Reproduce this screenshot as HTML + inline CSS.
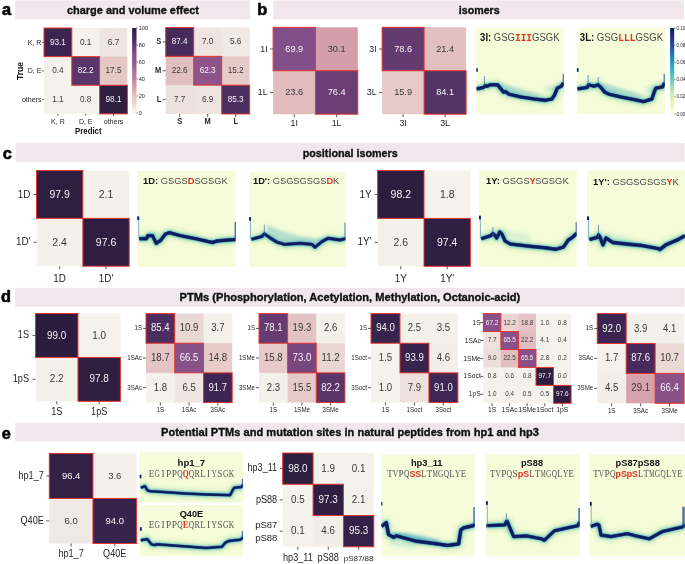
<!DOCTYPE html>
<html><head><meta charset="utf-8"><style>
html,body{margin:0;padding:0;background:#fff;width:685px;height:564px;overflow:hidden}
svg{display:block}
</style></head><body>
<svg width="685" height="564" viewBox="0 0 685 564" style="will-change:transform">
<rect width="685" height="564" fill="#fff"/>
<defs><filter id="blur1" filterUnits="userSpaceOnUse" x="0" y="0" width="685" height="564"><feGaussianBlur stdDeviation="0.5"/></filter><filter id="blur1b" filterUnits="userSpaceOnUse" x="0" y="0" width="685" height="564"><feGaussianBlur stdDeviation="0.9"/></filter><filter id="blur2" filterUnits="userSpaceOnUse" x="0" y="0" width="685" height="564"><feGaussianBlur stdDeviation="1.6"/></filter><filter id="blur3" filterUnits="userSpaceOnUse" x="0" y="0" width="685" height="564"><feGaussianBlur stdDeviation="2.2"/></filter></defs>
<text x="2.00" y="15.30" font-family='"Liberation Sans", sans-serif' font-size="16.30" font-weight="bold" fill="#000" text-anchor="start" stroke="#000" stroke-width="0.6">a</text>
<rect x="15.00" y="0.40" width="235.30" height="19.00" fill="#f1e6ec" />
<text x="67.00" y="13.50" font-family='"Liberation Sans", sans-serif' font-size="11.30" font-weight="bold" fill="#111" text-anchor="start" textLength="132.00" lengthAdjust="spacingAndGlyphs" stroke="#111" stroke-width="0.35">charge and volume effect</text>
<text x="257.20" y="15.40" font-family='"Liberation Sans", sans-serif' font-size="16.30" font-weight="bold" fill="#000" text-anchor="start" stroke="#000" stroke-width="0.6">b</text>
<rect x="273.10" y="0.40" width="410.90" height="19.00" fill="#f1e6ec" />
<text x="458.80" y="13.70" font-family='"Liberation Sans", sans-serif' font-size="11.30" font-weight="bold" fill="#111" text-anchor="start" textLength="40.90" lengthAdjust="spacingAndGlyphs" stroke="#111" stroke-width="0.35">isomers</text>
<text x="2.80" y="158.50" font-family='"Liberation Sans", sans-serif' font-size="16.30" font-weight="bold" fill="#000" text-anchor="start" stroke="#000" stroke-width="0.6">c</text>
<rect x="15.80" y="142.90" width="668.70" height="18.85" fill="#f1e6ec" />
<text x="302.70" y="156.60" font-family='"Liberation Sans", sans-serif' font-size="11.30" font-weight="bold" fill="#111" text-anchor="start" textLength="95.10" lengthAdjust="spacingAndGlyphs" stroke="#111" stroke-width="0.35">positional isomers</text>
<text x="1.00" y="302.30" font-family='"Liberation Sans", sans-serif' font-size="16.30" font-weight="bold" fill="#000" text-anchor="start" stroke="#000" stroke-width="0.6">d</text>
<rect x="15.20" y="287.90" width="669.30" height="18.70" fill="#f1e6ec" />
<text x="179.60" y="301.40" font-family='"Liberation Sans", sans-serif' font-size="11.30" font-weight="bold" fill="#111" text-anchor="start" textLength="340.60" lengthAdjust="spacingAndGlyphs" stroke="#111" stroke-width="0.35">PTMs (Phosphorylation, Acetylation, Methylation, Octanoic-acid)</text>
<text x="1.80" y="439.00" font-family='"Liberation Sans", sans-serif' font-size="16.30" font-weight="bold" fill="#000" text-anchor="start" stroke="#000" stroke-width="0.6">e</text>
<rect x="15.20" y="422.90" width="669.30" height="18.70" fill="#f1e6ec" />
<text x="161.00" y="436.40" font-family='"Liberation Sans", sans-serif' font-size="11.30" font-weight="bold" fill="#111" text-anchor="start" textLength="378.00" lengthAdjust="spacingAndGlyphs" stroke="#111" stroke-width="0.35">Potential PTMs and mutation sites in natural peptides from hp1 and hp3</text>
<rect x="44.00" y="28.00" width="28.50" height="29.33" fill="#3a2450" />
<rect x="71.80" y="28.00" width="28.50" height="29.33" fill="#f5f2ec" />
<rect x="99.60" y="28.00" width="27.80" height="29.33" fill="#eee5e1" />
<rect x="44.00" y="56.63" width="28.50" height="29.33" fill="#f5f2ec" />
<rect x="71.80" y="56.63" width="28.50" height="29.33" fill="#593569" />
<rect x="99.60" y="56.63" width="27.80" height="29.33" fill="#e5c7c6" />
<rect x="44.00" y="85.27" width="28.50" height="28.63" fill="#f5f1eb" />
<rect x="71.80" y="85.27" width="28.50" height="28.63" fill="#f5f2ec" />
<rect x="99.60" y="85.27" width="27.80" height="28.63" fill="#2e1e40" />
<text x="57.90" y="44.86" font-family='"Liberation Sans", sans-serif' font-size="8.61" font-weight="normal" fill="#f4f4f4" text-anchor="middle" textLength="15.96" lengthAdjust="spacingAndGlyphs" >93.1</text>
<text x="85.70" y="44.86" font-family='"Liberation Sans", sans-serif' font-size="8.61" font-weight="normal" fill="#3a3a3a" text-anchor="middle" textLength="11.40" lengthAdjust="spacingAndGlyphs" >0.1</text>
<text x="113.50" y="44.86" font-family='"Liberation Sans", sans-serif' font-size="8.61" font-weight="normal" fill="#3a3a3a" text-anchor="middle" textLength="11.40" lengthAdjust="spacingAndGlyphs" >6.7</text>
<text x="57.90" y="73.49" font-family='"Liberation Sans", sans-serif' font-size="8.61" font-weight="normal" fill="#3a3a3a" text-anchor="middle" textLength="11.40" lengthAdjust="spacingAndGlyphs" >0.4</text>
<text x="85.70" y="73.49" font-family='"Liberation Sans", sans-serif' font-size="8.61" font-weight="normal" fill="#f4f4f4" text-anchor="middle" textLength="15.96" lengthAdjust="spacingAndGlyphs" >82.2</text>
<text x="113.50" y="73.49" font-family='"Liberation Sans", sans-serif' font-size="8.61" font-weight="normal" fill="#3a3a3a" text-anchor="middle" textLength="15.96" lengthAdjust="spacingAndGlyphs" >17.5</text>
<text x="57.90" y="102.13" font-family='"Liberation Sans", sans-serif' font-size="8.61" font-weight="normal" fill="#3a3a3a" text-anchor="middle" textLength="11.40" lengthAdjust="spacingAndGlyphs" >1.1</text>
<text x="85.70" y="102.13" font-family='"Liberation Sans", sans-serif' font-size="8.61" font-weight="normal" fill="#3a3a3a" text-anchor="middle" textLength="11.40" lengthAdjust="spacingAndGlyphs" >0.8</text>
<text x="113.50" y="102.13" font-family='"Liberation Sans", sans-serif' font-size="8.61" font-weight="normal" fill="#f4f4f4" text-anchor="middle" textLength="15.96" lengthAdjust="spacingAndGlyphs" >98.1</text>
<rect x="44.00" y="28.00" width="27.80" height="28.63" fill="none" stroke="#e8322a" stroke-width="0.95"/>
<rect x="71.80" y="56.63" width="27.80" height="28.63" fill="none" stroke="#e8322a" stroke-width="0.95"/>
<rect x="99.60" y="85.27" width="27.80" height="28.63" fill="none" stroke="#e8322a" stroke-width="0.95"/>
<line x1="42.20" y1="42.32" x2="44.00" y2="42.32" stroke="#262626" stroke-width="0.75"/>
<text x="41.40" y="44.51" font-family='"Liberation Sans", sans-serif' font-size="7.81" font-weight="normal" fill="#262626" text-anchor="end" textLength="13.63" lengthAdjust="spacingAndGlyphs" >K, R</text>
<line x1="42.20" y1="70.95" x2="44.00" y2="70.95" stroke="#262626" stroke-width="0.75"/>
<text x="41.40" y="73.14" font-family='"Liberation Sans", sans-serif' font-size="7.81" font-weight="normal" fill="#262626" text-anchor="end" textLength="13.63" lengthAdjust="spacingAndGlyphs" >D, E</text>
<line x1="42.20" y1="99.58" x2="44.00" y2="99.58" stroke="#262626" stroke-width="0.75"/>
<text x="41.40" y="101.77" font-family='"Liberation Sans", sans-serif' font-size="7.81" font-weight="normal" fill="#262626" text-anchor="end" textLength="19.48" lengthAdjust="spacingAndGlyphs" >others</text>
<line x1="57.90" y1="113.90" x2="57.90" y2="115.70" stroke="#262626" stroke-width="0.75"/>
<text x="57.90" y="123.80" font-family='"Liberation Sans", sans-serif' font-size="7.81" font-weight="normal" fill="#262626" text-anchor="middle" textLength="13.63" lengthAdjust="spacingAndGlyphs" >K, R</text>
<line x1="85.70" y1="113.90" x2="85.70" y2="115.70" stroke="#262626" stroke-width="0.75"/>
<text x="85.70" y="123.80" font-family='"Liberation Sans", sans-serif' font-size="7.81" font-weight="normal" fill="#262626" text-anchor="middle" textLength="13.63" lengthAdjust="spacingAndGlyphs" >D, E</text>
<line x1="113.50" y1="113.90" x2="113.50" y2="115.70" stroke="#262626" stroke-width="0.75"/>
<text x="113.50" y="123.80" font-family='"Liberation Sans", sans-serif' font-size="7.81" font-weight="normal" fill="#262626" text-anchor="middle" textLength="19.48" lengthAdjust="spacingAndGlyphs" >others</text>
<text x="22.60" y="71.00" font-family='"Liberation Sans", sans-serif' font-size="8.60" font-weight="bold" fill="#111" text-anchor="middle" transform="rotate(-90 22.6 71)">True</text>
<text x="75.00" y="134.00" font-family='"Liberation Sans", sans-serif' font-size="8.20" font-weight="bold" fill="#111" text-anchor="start" textLength="26.60" lengthAdjust="spacingAndGlyphs" >Predict</text>
<defs><linearGradient id="g50" x1="0" y1="1" x2="0" y2="0"><stop offset="0.0" stop-color="#f5f2ec"/><stop offset="0.05" stop-color="#f2ece7"/><stop offset="0.1" stop-color="#ebdbd7"/><stop offset="0.15" stop-color="#e6ccc9"/><stop offset="0.2" stop-color="#e3c2c2"/><stop offset="0.25" stop-color="#ddb6ba"/><stop offset="0.3" stop-color="#d49faa"/><stop offset="0.35" stop-color="#ca93a5"/><stop offset="0.4" stop-color="#bf86a1"/><stop offset="0.45" stop-color="#b57a9c"/><stop offset="0.5" stop-color="#aa6f97"/><stop offset="0.55" stop-color="#9e6391"/><stop offset="0.6" stop-color="#93588c"/><stop offset="0.65" stop-color="#8a5289"/><stop offset="0.7" stop-color="#834f88"/><stop offset="0.75" stop-color="#704178"/><stop offset="0.8" stop-color="#60386d"/><stop offset="0.85" stop-color="#4e2e60"/><stop offset="0.9" stop-color="#412856"/><stop offset="0.95" stop-color="#35224a"/><stop offset="1.0" stop-color="#2a1b3b"/></linearGradient></defs>
<rect x="132.10" y="28.00" width="4.40" height="85.00" fill="url(#g50)" />
<line x1="136.50" y1="113.00" x2="138.00" y2="113.00" stroke="#262626" stroke-width="0.5"/>
<text x="138.70" y="115.02" font-family='"Liberation Sans", sans-serif' font-size="5.60" font-weight="normal" fill="#262626" text-anchor="start" >0</text>
<line x1="136.50" y1="96.00" x2="138.00" y2="96.00" stroke="#262626" stroke-width="0.5"/>
<text x="138.70" y="98.02" font-family='"Liberation Sans", sans-serif' font-size="5.60" font-weight="normal" fill="#262626" text-anchor="start" >20</text>
<line x1="136.50" y1="79.00" x2="138.00" y2="79.00" stroke="#262626" stroke-width="0.5"/>
<text x="138.70" y="81.02" font-family='"Liberation Sans", sans-serif' font-size="5.60" font-weight="normal" fill="#262626" text-anchor="start" >40</text>
<line x1="136.50" y1="62.00" x2="138.00" y2="62.00" stroke="#262626" stroke-width="0.5"/>
<text x="138.70" y="64.02" font-family='"Liberation Sans", sans-serif' font-size="5.60" font-weight="normal" fill="#262626" text-anchor="start" >60</text>
<line x1="136.50" y1="45.00" x2="138.00" y2="45.00" stroke="#262626" stroke-width="0.5"/>
<text x="138.70" y="47.02" font-family='"Liberation Sans", sans-serif' font-size="5.60" font-weight="normal" fill="#262626" text-anchor="start" >80</text>
<line x1="136.50" y1="28.00" x2="138.00" y2="28.00" stroke="#262626" stroke-width="0.5"/>
<text x="138.70" y="30.02" font-family='"Liberation Sans", sans-serif' font-size="5.60" font-weight="normal" fill="#262626" text-anchor="start" >100</text>
<rect x="165.70" y="27.50" width="28.70" height="29.53" fill="#472b5b" />
<rect x="193.70" y="27.50" width="28.70" height="29.53" fill="#eee4e0" />
<rect x="221.70" y="27.50" width="28.00" height="29.53" fill="#f1e9e4" />
<rect x="165.70" y="56.33" width="28.70" height="29.53" fill="#e1bebf" />
<rect x="193.70" y="56.33" width="28.70" height="29.53" fill="#8e5389" />
<rect x="221.70" y="56.33" width="28.00" height="29.53" fill="#e6cbc9" />
<rect x="165.70" y="85.17" width="28.70" height="28.83" fill="#ede2de" />
<rect x="193.70" y="85.17" width="28.70" height="28.83" fill="#eee4e0" />
<rect x="221.70" y="85.17" width="28.00" height="28.83" fill="#4c2d5f" />
<text x="179.70" y="44.46" font-family='"Liberation Sans", sans-serif' font-size="8.61" font-weight="normal" fill="#f4f4f4" text-anchor="middle" textLength="15.96" lengthAdjust="spacingAndGlyphs" >87.4</text>
<text x="207.70" y="44.46" font-family='"Liberation Sans", sans-serif' font-size="8.61" font-weight="normal" fill="#3a3a3a" text-anchor="middle" textLength="11.40" lengthAdjust="spacingAndGlyphs" >7.0</text>
<text x="235.70" y="44.46" font-family='"Liberation Sans", sans-serif' font-size="8.61" font-weight="normal" fill="#3a3a3a" text-anchor="middle" textLength="11.40" lengthAdjust="spacingAndGlyphs" >5.6</text>
<text x="179.70" y="73.29" font-family='"Liberation Sans", sans-serif' font-size="8.61" font-weight="normal" fill="#3a3a3a" text-anchor="middle" textLength="15.96" lengthAdjust="spacingAndGlyphs" >22.6</text>
<text x="207.70" y="73.29" font-family='"Liberation Sans", sans-serif' font-size="8.61" font-weight="normal" fill="#f4f4f4" text-anchor="middle" textLength="15.96" lengthAdjust="spacingAndGlyphs" >62.3</text>
<text x="235.70" y="73.29" font-family='"Liberation Sans", sans-serif' font-size="8.61" font-weight="normal" fill="#3a3a3a" text-anchor="middle" textLength="15.96" lengthAdjust="spacingAndGlyphs" >15.2</text>
<text x="179.70" y="102.13" font-family='"Liberation Sans", sans-serif' font-size="8.61" font-weight="normal" fill="#3a3a3a" text-anchor="middle" textLength="11.40" lengthAdjust="spacingAndGlyphs" >7.7</text>
<text x="207.70" y="102.13" font-family='"Liberation Sans", sans-serif' font-size="8.61" font-weight="normal" fill="#3a3a3a" text-anchor="middle" textLength="11.40" lengthAdjust="spacingAndGlyphs" >6.9</text>
<text x="235.70" y="102.13" font-family='"Liberation Sans", sans-serif' font-size="8.61" font-weight="normal" fill="#f4f4f4" text-anchor="middle" textLength="15.96" lengthAdjust="spacingAndGlyphs" >85.3</text>
<rect x="165.70" y="27.50" width="28.00" height="28.83" fill="none" stroke="#e8322a" stroke-width="0.95"/>
<rect x="193.70" y="56.33" width="28.00" height="28.83" fill="none" stroke="#e8322a" stroke-width="0.95"/>
<rect x="221.70" y="85.17" width="28.00" height="28.83" fill="none" stroke="#e8322a" stroke-width="0.95"/>
<line x1="162.70" y1="41.92" x2="165.70" y2="41.92" stroke="#262626" stroke-width="0.75"/>
<text x="161.20" y="44.26" font-family='"Liberation Sans", sans-serif' font-size="8.35" font-weight="bold" fill="#262626" text-anchor="end" textLength="4.99" lengthAdjust="spacingAndGlyphs" >S</text>
<line x1="162.70" y1="70.75" x2="165.70" y2="70.75" stroke="#262626" stroke-width="0.75"/>
<text x="161.20" y="73.09" font-family='"Liberation Sans", sans-serif' font-size="8.35" font-weight="bold" fill="#262626" text-anchor="end" textLength="6.24" lengthAdjust="spacingAndGlyphs" >M</text>
<line x1="162.70" y1="99.58" x2="165.70" y2="99.58" stroke="#262626" stroke-width="0.75"/>
<text x="161.20" y="101.92" font-family='"Liberation Sans", sans-serif' font-size="8.35" font-weight="bold" fill="#262626" text-anchor="end" textLength="4.57" lengthAdjust="spacingAndGlyphs" >L</text>
<line x1="179.70" y1="114.00" x2="179.70" y2="117.00" stroke="#262626" stroke-width="0.75"/>
<text x="179.70" y="124.20" font-family='"Liberation Sans", sans-serif' font-size="8.35" font-weight="bold" fill="#262626" text-anchor="middle" textLength="4.99" lengthAdjust="spacingAndGlyphs" >S</text>
<line x1="207.70" y1="114.00" x2="207.70" y2="117.00" stroke="#262626" stroke-width="0.75"/>
<text x="207.70" y="124.20" font-family='"Liberation Sans", sans-serif' font-size="8.35" font-weight="bold" fill="#262626" text-anchor="middle" textLength="6.24" lengthAdjust="spacingAndGlyphs" >M</text>
<line x1="235.70" y1="114.00" x2="235.70" y2="117.00" stroke="#262626" stroke-width="0.75"/>
<text x="235.70" y="124.20" font-family='"Liberation Sans", sans-serif' font-size="8.35" font-weight="bold" fill="#262626" text-anchor="middle" textLength="4.57" lengthAdjust="spacingAndGlyphs" >L</text>
<rect x="273.10" y="27.30" width="43.05" height="44.15" fill="#834f88" />
<rect x="315.45" y="27.30" width="42.35" height="44.15" fill="#d49faa" />
<rect x="273.10" y="70.75" width="43.05" height="43.45" fill="#e0bcbe" />
<rect x="315.45" y="70.75" width="42.35" height="43.45" fill="#6b3d74" />
<text x="294.28" y="51.88" font-family='"Liberation Sans", sans-serif' font-size="9.66" font-weight="normal" fill="#f4f4f4" text-anchor="middle" textLength="17.91" lengthAdjust="spacingAndGlyphs" >69.9</text>
<text x="336.62" y="51.88" font-family='"Liberation Sans", sans-serif' font-size="9.66" font-weight="normal" fill="#3a3a3a" text-anchor="middle" textLength="17.91" lengthAdjust="spacingAndGlyphs" >30.1</text>
<text x="294.28" y="95.33" font-family='"Liberation Sans", sans-serif' font-size="9.66" font-weight="normal" fill="#3a3a3a" text-anchor="middle" textLength="17.91" lengthAdjust="spacingAndGlyphs" >23.6</text>
<text x="336.62" y="95.33" font-family='"Liberation Sans", sans-serif' font-size="9.66" font-weight="normal" fill="#f4f4f4" text-anchor="middle" textLength="17.91" lengthAdjust="spacingAndGlyphs" >76.4</text>
<rect x="273.10" y="27.30" width="42.35" height="43.45" fill="none" stroke="#e8322a" stroke-width="0.95"/>
<rect x="315.45" y="70.75" width="42.35" height="43.45" fill="none" stroke="#e8322a" stroke-width="0.95"/>
<line x1="270.10" y1="49.03" x2="273.10" y2="49.03" stroke="#262626" stroke-width="0.75"/>
<text x="267.60" y="51.79" font-family='"Liberation Sans", sans-serif' font-size="9.84" font-weight="normal" fill="#262626" text-anchor="end" textLength="7.37" lengthAdjust="spacingAndGlyphs" >1I</text>
<line x1="270.10" y1="92.48" x2="273.10" y2="92.48" stroke="#262626" stroke-width="0.75"/>
<text x="267.60" y="95.24" font-family='"Liberation Sans", sans-serif' font-size="9.84" font-weight="normal" fill="#262626" text-anchor="end" textLength="9.82" lengthAdjust="spacingAndGlyphs" >1L</text>
<line x1="294.28" y1="114.20" x2="294.28" y2="117.20" stroke="#262626" stroke-width="0.75"/>
<text x="294.28" y="126.40" font-family='"Liberation Sans", sans-serif' font-size="9.84" font-weight="normal" fill="#262626" text-anchor="middle" textLength="7.37" lengthAdjust="spacingAndGlyphs" >1I</text>
<line x1="336.62" y1="114.20" x2="336.62" y2="117.20" stroke="#262626" stroke-width="0.75"/>
<text x="336.62" y="126.40" font-family='"Liberation Sans", sans-serif' font-size="9.84" font-weight="normal" fill="#262626" text-anchor="middle" textLength="9.82" lengthAdjust="spacingAndGlyphs" >1L</text>
<rect x="382.10" y="27.30" width="42.70" height="44.15" fill="#643a70" />
<rect x="424.10" y="27.30" width="42.00" height="44.15" fill="#e2c0c1" />
<rect x="382.10" y="70.75" width="42.70" height="43.45" fill="#e6c9c8" />
<rect x="424.10" y="70.75" width="42.00" height="43.45" fill="#533265" />
<text x="403.10" y="51.88" font-family='"Liberation Sans", sans-serif' font-size="9.66" font-weight="normal" fill="#f4f4f4" text-anchor="middle" textLength="17.91" lengthAdjust="spacingAndGlyphs" >78.6</text>
<text x="445.10" y="51.88" font-family='"Liberation Sans", sans-serif' font-size="9.66" font-weight="normal" fill="#3a3a3a" text-anchor="middle" textLength="17.91" lengthAdjust="spacingAndGlyphs" >21.4</text>
<text x="403.10" y="95.33" font-family='"Liberation Sans", sans-serif' font-size="9.66" font-weight="normal" fill="#3a3a3a" text-anchor="middle" textLength="17.91" lengthAdjust="spacingAndGlyphs" >15.9</text>
<text x="445.10" y="95.33" font-family='"Liberation Sans", sans-serif' font-size="9.66" font-weight="normal" fill="#f4f4f4" text-anchor="middle" textLength="17.91" lengthAdjust="spacingAndGlyphs" >84.1</text>
<rect x="382.10" y="27.30" width="42.00" height="43.45" fill="none" stroke="#e8322a" stroke-width="0.95"/>
<rect x="424.10" y="70.75" width="42.00" height="43.45" fill="none" stroke="#e8322a" stroke-width="0.95"/>
<line x1="379.10" y1="49.03" x2="382.10" y2="49.03" stroke="#262626" stroke-width="0.75"/>
<text x="376.60" y="51.79" font-family='"Liberation Sans", sans-serif' font-size="9.84" font-weight="normal" fill="#262626" text-anchor="end" textLength="7.37" lengthAdjust="spacingAndGlyphs" >3I</text>
<line x1="379.10" y1="92.48" x2="382.10" y2="92.48" stroke="#262626" stroke-width="0.75"/>
<text x="376.60" y="95.24" font-family='"Liberation Sans", sans-serif' font-size="9.84" font-weight="normal" fill="#262626" text-anchor="end" textLength="9.82" lengthAdjust="spacingAndGlyphs" >3L</text>
<line x1="403.10" y1="114.20" x2="403.10" y2="117.20" stroke="#262626" stroke-width="0.75"/>
<text x="403.10" y="126.40" font-family='"Liberation Sans", sans-serif' font-size="9.84" font-weight="normal" fill="#262626" text-anchor="middle" textLength="7.37" lengthAdjust="spacingAndGlyphs" >3I</text>
<line x1="445.10" y1="114.20" x2="445.10" y2="117.20" stroke="#262626" stroke-width="0.75"/>
<text x="445.10" y="126.40" font-family='"Liberation Sans", sans-serif' font-size="9.84" font-weight="normal" fill="#262626" text-anchor="middle" textLength="9.82" lengthAdjust="spacingAndGlyphs" >3L</text>
<rect x="36.50" y="170.50" width="47.05" height="48.55" fill="#2e1e40" />
<rect x="82.85" y="170.50" width="46.35" height="48.55" fill="#f4f1eb" />
<rect x="36.50" y="218.35" width="47.05" height="47.85" fill="#f4f1eb" />
<rect x="82.85" y="218.35" width="46.35" height="47.85" fill="#2f1e41" />
<text x="59.67" y="197.68" font-family='"Liberation Sans", sans-serif' font-size="11.03" font-weight="normal" fill="#f4f4f4" text-anchor="middle" textLength="20.44" lengthAdjust="spacingAndGlyphs" >97.9</text>
<text x="106.02" y="197.68" font-family='"Liberation Sans", sans-serif' font-size="11.03" font-weight="normal" fill="#3a3a3a" text-anchor="middle" textLength="14.60" lengthAdjust="spacingAndGlyphs" >2.1</text>
<text x="59.67" y="245.53" font-family='"Liberation Sans", sans-serif' font-size="11.03" font-weight="normal" fill="#3a3a3a" text-anchor="middle" textLength="14.60" lengthAdjust="spacingAndGlyphs" >2.4</text>
<text x="106.02" y="245.53" font-family='"Liberation Sans", sans-serif' font-size="11.03" font-weight="normal" fill="#f4f4f4" text-anchor="middle" textLength="20.44" lengthAdjust="spacingAndGlyphs" >97.6</text>
<rect x="36.50" y="170.50" width="46.35" height="47.85" fill="none" stroke="#e8322a" stroke-width="0.95"/>
<rect x="82.85" y="218.35" width="46.35" height="47.85" fill="none" stroke="#e8322a" stroke-width="0.95"/>
<line x1="33.50" y1="194.43" x2="36.50" y2="194.43" stroke="#262626" stroke-width="0.75"/>
<text x="30.50" y="197.52" font-family='"Liberation Sans", sans-serif' font-size="11.02" font-weight="normal" fill="#262626" text-anchor="end" textLength="12.64" lengthAdjust="spacingAndGlyphs" >1D</text>
<line x1="33.50" y1="242.27" x2="36.50" y2="242.27" stroke="#262626" stroke-width="0.75"/>
<text x="30.50" y="245.36" font-family='"Liberation Sans", sans-serif' font-size="11.02" font-weight="normal" fill="#262626" text-anchor="end" textLength="14.53" lengthAdjust="spacingAndGlyphs" >1D'</text>
<line x1="59.67" y1="266.20" x2="59.67" y2="269.20" stroke="#262626" stroke-width="0.75"/>
<text x="59.67" y="281.60" font-family='"Liberation Sans", sans-serif' font-size="11.02" font-weight="normal" fill="#262626" text-anchor="middle" textLength="12.64" lengthAdjust="spacingAndGlyphs" >1D</text>
<line x1="106.02" y1="266.20" x2="106.02" y2="269.20" stroke="#262626" stroke-width="0.75"/>
<text x="106.02" y="281.60" font-family='"Liberation Sans", sans-serif' font-size="11.02" font-weight="normal" fill="#262626" text-anchor="middle" textLength="14.53" lengthAdjust="spacingAndGlyphs" >1D'</text>
<rect x="377.60" y="170.50" width="47.10" height="48.60" fill="#2d1e3f" />
<rect x="424.00" y="170.50" width="46.40" height="48.60" fill="#f5f1eb" />
<rect x="377.60" y="218.40" width="47.10" height="47.90" fill="#f4f1eb" />
<rect x="424.00" y="218.40" width="46.40" height="47.90" fill="#2f1f42" />
<text x="400.80" y="197.70" font-family='"Liberation Sans", sans-serif' font-size="11.03" font-weight="normal" fill="#f4f4f4" text-anchor="middle" textLength="20.44" lengthAdjust="spacingAndGlyphs" >98.2</text>
<text x="447.20" y="197.70" font-family='"Liberation Sans", sans-serif' font-size="11.03" font-weight="normal" fill="#3a3a3a" text-anchor="middle" textLength="14.60" lengthAdjust="spacingAndGlyphs" >1.8</text>
<text x="400.80" y="245.61" font-family='"Liberation Sans", sans-serif' font-size="11.03" font-weight="normal" fill="#3a3a3a" text-anchor="middle" textLength="14.60" lengthAdjust="spacingAndGlyphs" >2.6</text>
<text x="447.20" y="245.61" font-family='"Liberation Sans", sans-serif' font-size="11.03" font-weight="normal" fill="#f4f4f4" text-anchor="middle" textLength="20.44" lengthAdjust="spacingAndGlyphs" >97.4</text>
<rect x="377.60" y="170.50" width="46.40" height="47.90" fill="none" stroke="#e8322a" stroke-width="0.95"/>
<rect x="424.00" y="218.40" width="46.40" height="47.90" fill="none" stroke="#e8322a" stroke-width="0.95"/>
<line x1="374.60" y1="194.45" x2="377.60" y2="194.45" stroke="#262626" stroke-width="0.75"/>
<text x="371.60" y="197.54" font-family='"Liberation Sans", sans-serif' font-size="11.02" font-weight="normal" fill="#262626" text-anchor="end" textLength="12.10" lengthAdjust="spacingAndGlyphs" >1Y</text>
<line x1="374.60" y1="242.35" x2="377.60" y2="242.35" stroke="#262626" stroke-width="0.75"/>
<text x="371.60" y="245.44" font-family='"Liberation Sans", sans-serif' font-size="11.02" font-weight="normal" fill="#262626" text-anchor="end" textLength="13.98" lengthAdjust="spacingAndGlyphs" >1Y'</text>
<line x1="400.80" y1="266.30" x2="400.80" y2="269.30" stroke="#262626" stroke-width="0.75"/>
<text x="400.80" y="281.60" font-family='"Liberation Sans", sans-serif' font-size="11.02" font-weight="normal" fill="#262626" text-anchor="middle" textLength="12.10" lengthAdjust="spacingAndGlyphs" >1Y</text>
<line x1="447.20" y1="266.30" x2="447.20" y2="269.30" stroke="#262626" stroke-width="0.75"/>
<text x="447.20" y="281.60" font-family='"Liberation Sans", sans-serif' font-size="11.02" font-weight="normal" fill="#262626" text-anchor="middle" textLength="13.98" lengthAdjust="spacingAndGlyphs" >1Y'</text>
<rect x="35.50" y="313.50" width="43.15" height="44.60" fill="#2c1c3d" />
<rect x="77.95" y="313.50" width="42.45" height="44.60" fill="#f5f2ec" />
<rect x="35.50" y="357.40" width="43.15" height="43.90" fill="#f4f1eb" />
<rect x="77.95" y="357.40" width="42.45" height="43.90" fill="#2e1e40" />
<text x="56.73" y="338.52" font-family='"Liberation Sans", sans-serif' font-size="10.40" font-weight="normal" fill="#f4f4f4" text-anchor="middle" textLength="19.27" lengthAdjust="spacingAndGlyphs" >99.0</text>
<text x="99.18" y="338.52" font-family='"Liberation Sans", sans-serif' font-size="10.40" font-weight="normal" fill="#3a3a3a" text-anchor="middle" textLength="13.76" lengthAdjust="spacingAndGlyphs" >1.0</text>
<text x="56.73" y="382.42" font-family='"Liberation Sans", sans-serif' font-size="10.40" font-weight="normal" fill="#3a3a3a" text-anchor="middle" textLength="13.76" lengthAdjust="spacingAndGlyphs" >2.2</text>
<text x="99.18" y="382.42" font-family='"Liberation Sans", sans-serif' font-size="10.40" font-weight="normal" fill="#f4f4f4" text-anchor="middle" textLength="19.27" lengthAdjust="spacingAndGlyphs" >97.8</text>
<rect x="35.50" y="313.50" width="42.45" height="43.90" fill="none" stroke="#e8322a" stroke-width="0.95"/>
<rect x="77.95" y="357.40" width="42.45" height="43.90" fill="none" stroke="#e8322a" stroke-width="0.95"/>
<line x1="32.50" y1="335.45" x2="35.50" y2="335.45" stroke="#262626" stroke-width="0.75"/>
<text x="29.00" y="338.30" font-family='"Liberation Sans", sans-serif' font-size="10.17" font-weight="normal" fill="#262626" text-anchor="end" textLength="11.16" lengthAdjust="spacingAndGlyphs" >1S</text>
<line x1="32.50" y1="379.35" x2="35.50" y2="379.35" stroke="#262626" stroke-width="0.75"/>
<text x="29.00" y="382.20" font-family='"Liberation Sans", sans-serif' font-size="10.17" font-weight="normal" fill="#262626" text-anchor="end" textLength="16.23" lengthAdjust="spacingAndGlyphs" >1pS</text>
<line x1="56.73" y1="401.30" x2="56.73" y2="404.30" stroke="#262626" stroke-width="0.75"/>
<text x="56.73" y="414.80" font-family='"Liberation Sans", sans-serif' font-size="10.17" font-weight="normal" fill="#262626" text-anchor="middle" textLength="11.16" lengthAdjust="spacingAndGlyphs" >1S</text>
<line x1="99.18" y1="401.30" x2="99.18" y2="404.30" stroke="#262626" stroke-width="0.75"/>
<text x="99.18" y="414.80" font-family='"Liberation Sans", sans-serif' font-size="10.17" font-weight="normal" fill="#262626" text-anchor="middle" textLength="16.23" lengthAdjust="spacingAndGlyphs" >1pS</text>
<rect x="146.00" y="313.60" width="29.43" height="30.33" fill="#4c2d5f" />
<rect x="174.73" y="313.60" width="29.43" height="30.33" fill="#ead8d5" />
<rect x="203.47" y="313.60" width="28.73" height="30.33" fill="#f4f0ea" />
<rect x="146.00" y="343.23" width="29.43" height="30.33" fill="#e4c4c4" />
<rect x="174.73" y="343.23" width="29.43" height="30.33" fill="#885188" />
<rect x="203.47" y="343.23" width="28.73" height="30.33" fill="#e7ccca" />
<rect x="146.00" y="372.87" width="29.43" height="29.63" fill="#f5f1eb" />
<rect x="174.73" y="372.87" width="29.43" height="29.63" fill="#efe6e1" />
<rect x="203.47" y="372.87" width="28.73" height="29.63" fill="#3d2653" />
<text x="160.37" y="331.39" font-family='"Liberation Sans", sans-serif' font-size="10.08" font-weight="normal" fill="#f4f4f4" text-anchor="middle" textLength="18.68" lengthAdjust="spacingAndGlyphs" >85.4</text>
<text x="189.10" y="331.39" font-family='"Liberation Sans", sans-serif' font-size="10.08" font-weight="normal" fill="#3a3a3a" text-anchor="middle" textLength="18.68" lengthAdjust="spacingAndGlyphs" >10.9</text>
<text x="217.83" y="331.39" font-family='"Liberation Sans", sans-serif' font-size="10.08" font-weight="normal" fill="#3a3a3a" text-anchor="middle" textLength="13.35" lengthAdjust="spacingAndGlyphs" >3.7</text>
<text x="160.37" y="361.03" font-family='"Liberation Sans", sans-serif' font-size="10.08" font-weight="normal" fill="#3a3a3a" text-anchor="middle" textLength="18.68" lengthAdjust="spacingAndGlyphs" >18.7</text>
<text x="189.10" y="361.03" font-family='"Liberation Sans", sans-serif' font-size="10.08" font-weight="normal" fill="#f4f4f4" text-anchor="middle" textLength="18.68" lengthAdjust="spacingAndGlyphs" >66.5</text>
<text x="217.83" y="361.03" font-family='"Liberation Sans", sans-serif' font-size="10.08" font-weight="normal" fill="#3a3a3a" text-anchor="middle" textLength="18.68" lengthAdjust="spacingAndGlyphs" >14.8</text>
<text x="160.37" y="390.66" font-family='"Liberation Sans", sans-serif' font-size="10.08" font-weight="normal" fill="#3a3a3a" text-anchor="middle" textLength="13.35" lengthAdjust="spacingAndGlyphs" >1.8</text>
<text x="189.10" y="390.66" font-family='"Liberation Sans", sans-serif' font-size="10.08" font-weight="normal" fill="#3a3a3a" text-anchor="middle" textLength="13.35" lengthAdjust="spacingAndGlyphs" >6.5</text>
<text x="217.83" y="390.66" font-family='"Liberation Sans", sans-serif' font-size="10.08" font-weight="normal" fill="#f4f4f4" text-anchor="middle" textLength="18.68" lengthAdjust="spacingAndGlyphs" >91.7</text>
<rect x="146.00" y="313.60" width="28.73" height="29.63" fill="none" stroke="#e8322a" stroke-width="0.95"/>
<rect x="174.73" y="343.23" width="28.73" height="29.63" fill="none" stroke="#e8322a" stroke-width="0.95"/>
<rect x="203.47" y="372.87" width="28.73" height="29.63" fill="none" stroke="#e8322a" stroke-width="0.95"/>
<line x1="143.00" y1="328.42" x2="146.00" y2="328.42" stroke="#262626" stroke-width="0.75"/>
<text x="142.00" y="330.34" font-family='"Liberation Sans", sans-serif' font-size="6.85" font-weight="normal" fill="#262626" text-anchor="end" textLength="7.52" lengthAdjust="spacingAndGlyphs" >1S</text>
<line x1="143.00" y1="358.05" x2="146.00" y2="358.05" stroke="#262626" stroke-width="0.75"/>
<text x="142.00" y="359.97" font-family='"Liberation Sans", sans-serif' font-size="6.85" font-weight="normal" fill="#262626" text-anchor="end" textLength="14.69" lengthAdjust="spacingAndGlyphs" >1SAc</text>
<line x1="143.00" y1="387.68" x2="146.00" y2="387.68" stroke="#262626" stroke-width="0.75"/>
<text x="142.00" y="389.60" font-family='"Liberation Sans", sans-serif' font-size="6.85" font-weight="normal" fill="#262626" text-anchor="end" textLength="14.69" lengthAdjust="spacingAndGlyphs" >3SAc</text>
<line x1="160.37" y1="402.50" x2="160.37" y2="405.50" stroke="#262626" stroke-width="0.75"/>
<text x="160.37" y="412.40" font-family='"Liberation Sans", sans-serif' font-size="6.85" font-weight="normal" fill="#262626" text-anchor="middle" textLength="7.52" lengthAdjust="spacingAndGlyphs" >1S</text>
<line x1="189.10" y1="402.50" x2="189.10" y2="405.50" stroke="#262626" stroke-width="0.75"/>
<text x="189.10" y="412.40" font-family='"Liberation Sans", sans-serif' font-size="6.85" font-weight="normal" fill="#262626" text-anchor="middle" textLength="14.69" lengthAdjust="spacingAndGlyphs" >1SAc</text>
<line x1="217.83" y1="402.50" x2="217.83" y2="405.50" stroke="#262626" stroke-width="0.75"/>
<text x="217.83" y="412.40" font-family='"Liberation Sans", sans-serif' font-size="6.85" font-weight="normal" fill="#262626" text-anchor="middle" textLength="14.69" lengthAdjust="spacingAndGlyphs" >3SAc</text>
<rect x="259.00" y="313.60" width="29.33" height="30.33" fill="#663b71" />
<rect x="287.63" y="313.60" width="29.33" height="30.33" fill="#e3c3c3" />
<rect x="316.27" y="313.60" width="28.63" height="30.33" fill="#f4f1eb" />
<rect x="259.00" y="343.23" width="29.33" height="30.33" fill="#e6c9c8" />
<rect x="287.63" y="343.23" width="29.33" height="30.33" fill="#78467e" />
<rect x="316.27" y="343.23" width="28.63" height="30.33" fill="#ead7d4" />
<rect x="259.00" y="372.87" width="29.33" height="29.63" fill="#f4f1eb" />
<rect x="287.63" y="372.87" width="29.33" height="29.63" fill="#e6cac8" />
<rect x="316.27" y="372.87" width="28.63" height="29.63" fill="#593569" />
<text x="273.32" y="331.39" font-family='"Liberation Sans", sans-serif' font-size="10.08" font-weight="normal" fill="#f4f4f4" text-anchor="middle" textLength="18.68" lengthAdjust="spacingAndGlyphs" >78.1</text>
<text x="301.95" y="331.39" font-family='"Liberation Sans", sans-serif' font-size="10.08" font-weight="normal" fill="#3a3a3a" text-anchor="middle" textLength="18.68" lengthAdjust="spacingAndGlyphs" >19.3</text>
<text x="330.58" y="331.39" font-family='"Liberation Sans", sans-serif' font-size="10.08" font-weight="normal" fill="#3a3a3a" text-anchor="middle" textLength="13.35" lengthAdjust="spacingAndGlyphs" >2.6</text>
<text x="273.32" y="361.03" font-family='"Liberation Sans", sans-serif' font-size="10.08" font-weight="normal" fill="#3a3a3a" text-anchor="middle" textLength="18.68" lengthAdjust="spacingAndGlyphs" >15.8</text>
<text x="301.95" y="361.03" font-family='"Liberation Sans", sans-serif' font-size="10.08" font-weight="normal" fill="#f4f4f4" text-anchor="middle" textLength="18.68" lengthAdjust="spacingAndGlyphs" >73.0</text>
<text x="330.58" y="361.03" font-family='"Liberation Sans", sans-serif' font-size="10.08" font-weight="normal" fill="#3a3a3a" text-anchor="middle" textLength="17.97" lengthAdjust="spacingAndGlyphs" >11.2</text>
<text x="273.32" y="390.66" font-family='"Liberation Sans", sans-serif' font-size="10.08" font-weight="normal" fill="#3a3a3a" text-anchor="middle" textLength="13.35" lengthAdjust="spacingAndGlyphs" >2.3</text>
<text x="301.95" y="390.66" font-family='"Liberation Sans", sans-serif' font-size="10.08" font-weight="normal" fill="#3a3a3a" text-anchor="middle" textLength="18.68" lengthAdjust="spacingAndGlyphs" >15.5</text>
<text x="330.58" y="390.66" font-family='"Liberation Sans", sans-serif' font-size="10.08" font-weight="normal" fill="#f4f4f4" text-anchor="middle" textLength="18.68" lengthAdjust="spacingAndGlyphs" >82.2</text>
<rect x="259.00" y="313.60" width="28.63" height="29.63" fill="none" stroke="#e8322a" stroke-width="0.95"/>
<rect x="287.63" y="343.23" width="28.63" height="29.63" fill="none" stroke="#e8322a" stroke-width="0.95"/>
<rect x="316.27" y="372.87" width="28.63" height="29.63" fill="none" stroke="#e8322a" stroke-width="0.95"/>
<line x1="256.00" y1="328.42" x2="259.00" y2="328.42" stroke="#262626" stroke-width="0.75"/>
<text x="255.00" y="330.34" font-family='"Liberation Sans", sans-serif' font-size="6.85" font-weight="normal" fill="#262626" text-anchor="end" textLength="7.52" lengthAdjust="spacingAndGlyphs" >1S</text>
<line x1="256.00" y1="358.05" x2="259.00" y2="358.05" stroke="#262626" stroke-width="0.75"/>
<text x="255.00" y="359.97" font-family='"Liberation Sans", sans-serif' font-size="6.85" font-weight="normal" fill="#262626" text-anchor="end" textLength="16.05" lengthAdjust="spacingAndGlyphs" >1SMe</text>
<line x1="256.00" y1="387.68" x2="259.00" y2="387.68" stroke="#262626" stroke-width="0.75"/>
<text x="255.00" y="389.60" font-family='"Liberation Sans", sans-serif' font-size="6.85" font-weight="normal" fill="#262626" text-anchor="end" textLength="16.05" lengthAdjust="spacingAndGlyphs" >3SMe</text>
<line x1="273.32" y1="402.50" x2="273.32" y2="405.50" stroke="#262626" stroke-width="0.75"/>
<text x="273.32" y="412.40" font-family='"Liberation Sans", sans-serif' font-size="6.85" font-weight="normal" fill="#262626" text-anchor="middle" textLength="7.52" lengthAdjust="spacingAndGlyphs" >1S</text>
<line x1="301.95" y1="402.50" x2="301.95" y2="405.50" stroke="#262626" stroke-width="0.75"/>
<text x="301.95" y="412.40" font-family='"Liberation Sans", sans-serif' font-size="6.85" font-weight="normal" fill="#262626" text-anchor="middle" textLength="16.05" lengthAdjust="spacingAndGlyphs" >1SMe</text>
<line x1="330.58" y1="402.50" x2="330.58" y2="405.50" stroke="#262626" stroke-width="0.75"/>
<text x="330.58" y="412.40" font-family='"Liberation Sans", sans-serif' font-size="6.85" font-weight="normal" fill="#262626" text-anchor="middle" textLength="16.05" lengthAdjust="spacingAndGlyphs" >3SMe</text>
<rect x="371.00" y="313.60" width="29.67" height="30.33" fill="#38234d" />
<rect x="399.97" y="313.60" width="29.67" height="30.33" fill="#f4f1eb" />
<rect x="428.93" y="313.60" width="28.97" height="30.33" fill="#f4f0ea" />
<rect x="371.00" y="343.23" width="29.67" height="30.33" fill="#f5f1eb" />
<rect x="399.97" y="343.23" width="29.67" height="30.33" fill="#38234d" />
<rect x="428.93" y="343.23" width="28.97" height="30.33" fill="#f3eee8" />
<rect x="371.00" y="372.87" width="29.67" height="29.63" fill="#f5f2ec" />
<rect x="399.97" y="372.87" width="29.67" height="29.63" fill="#ede1dd" />
<rect x="428.93" y="372.87" width="28.97" height="29.63" fill="#3f2654" />
<text x="385.48" y="331.39" font-family='"Liberation Sans", sans-serif' font-size="10.08" font-weight="normal" fill="#f4f4f4" text-anchor="middle" textLength="18.68" lengthAdjust="spacingAndGlyphs" >94.0</text>
<text x="414.45" y="331.39" font-family='"Liberation Sans", sans-serif' font-size="10.08" font-weight="normal" fill="#3a3a3a" text-anchor="middle" textLength="13.35" lengthAdjust="spacingAndGlyphs" >2.5</text>
<text x="443.42" y="331.39" font-family='"Liberation Sans", sans-serif' font-size="10.08" font-weight="normal" fill="#3a3a3a" text-anchor="middle" textLength="13.35" lengthAdjust="spacingAndGlyphs" >3.5</text>
<text x="385.48" y="361.03" font-family='"Liberation Sans", sans-serif' font-size="10.08" font-weight="normal" fill="#3a3a3a" text-anchor="middle" textLength="13.35" lengthAdjust="spacingAndGlyphs" >1.5</text>
<text x="414.45" y="361.03" font-family='"Liberation Sans", sans-serif' font-size="10.08" font-weight="normal" fill="#f4f4f4" text-anchor="middle" textLength="18.68" lengthAdjust="spacingAndGlyphs" >93.9</text>
<text x="443.42" y="361.03" font-family='"Liberation Sans", sans-serif' font-size="10.08" font-weight="normal" fill="#3a3a3a" text-anchor="middle" textLength="13.35" lengthAdjust="spacingAndGlyphs" >4.6</text>
<text x="385.48" y="390.66" font-family='"Liberation Sans", sans-serif' font-size="10.08" font-weight="normal" fill="#3a3a3a" text-anchor="middle" textLength="13.35" lengthAdjust="spacingAndGlyphs" >1.0</text>
<text x="414.45" y="390.66" font-family='"Liberation Sans", sans-serif' font-size="10.08" font-weight="normal" fill="#3a3a3a" text-anchor="middle" textLength="13.35" lengthAdjust="spacingAndGlyphs" >7.9</text>
<text x="443.42" y="390.66" font-family='"Liberation Sans", sans-serif' font-size="10.08" font-weight="normal" fill="#f4f4f4" text-anchor="middle" textLength="18.68" lengthAdjust="spacingAndGlyphs" >91.0</text>
<rect x="371.00" y="313.60" width="28.97" height="29.63" fill="none" stroke="#e8322a" stroke-width="0.95"/>
<rect x="399.97" y="343.23" width="28.97" height="29.63" fill="none" stroke="#e8322a" stroke-width="0.95"/>
<rect x="428.93" y="372.87" width="28.97" height="29.63" fill="none" stroke="#e8322a" stroke-width="0.95"/>
<line x1="368.00" y1="328.42" x2="371.00" y2="328.42" stroke="#262626" stroke-width="0.75"/>
<text x="367.00" y="330.34" font-family='"Liberation Sans", sans-serif' font-size="6.85" font-weight="normal" fill="#262626" text-anchor="end" textLength="7.52" lengthAdjust="spacingAndGlyphs" >1S</text>
<line x1="368.00" y1="358.05" x2="371.00" y2="358.05" stroke="#262626" stroke-width="0.75"/>
<text x="367.00" y="359.97" font-family='"Liberation Sans", sans-serif' font-size="6.85" font-weight="normal" fill="#262626" text-anchor="end" textLength="15.71" lengthAdjust="spacingAndGlyphs" >1Soct</text>
<line x1="368.00" y1="387.68" x2="371.00" y2="387.68" stroke="#262626" stroke-width="0.75"/>
<text x="367.00" y="389.60" font-family='"Liberation Sans", sans-serif' font-size="6.85" font-weight="normal" fill="#262626" text-anchor="end" textLength="15.71" lengthAdjust="spacingAndGlyphs" >3Soct</text>
<line x1="385.48" y1="402.50" x2="385.48" y2="405.50" stroke="#262626" stroke-width="0.75"/>
<text x="385.48" y="412.40" font-family='"Liberation Sans", sans-serif' font-size="6.85" font-weight="normal" fill="#262626" text-anchor="middle" textLength="7.52" lengthAdjust="spacingAndGlyphs" >1S</text>
<line x1="414.45" y1="402.50" x2="414.45" y2="405.50" stroke="#262626" stroke-width="0.75"/>
<text x="414.45" y="412.40" font-family='"Liberation Sans", sans-serif' font-size="6.85" font-weight="normal" fill="#262626" text-anchor="middle" textLength="15.71" lengthAdjust="spacingAndGlyphs" >1Soct</text>
<line x1="443.42" y1="402.50" x2="443.42" y2="405.50" stroke="#262626" stroke-width="0.75"/>
<text x="443.42" y="412.40" font-family='"Liberation Sans", sans-serif' font-size="6.85" font-weight="normal" fill="#262626" text-anchor="middle" textLength="15.71" lengthAdjust="spacingAndGlyphs" >3Soct</text>
<rect x="483.30" y="313.60" width="18.26" height="18.64" fill="#875088" />
<rect x="500.86" y="313.60" width="18.26" height="18.64" fill="#e9d4d1" />
<rect x="518.42" y="313.60" width="18.26" height="18.64" fill="#e4c4c4" />
<rect x="535.98" y="313.60" width="18.26" height="18.64" fill="#f5f2ec" />
<rect x="553.54" y="313.60" width="17.56" height="18.64" fill="#f5f2ec" />
<rect x="483.30" y="331.54" width="18.26" height="18.64" fill="#ede2de" />
<rect x="500.86" y="331.54" width="18.26" height="18.64" fill="#895189" />
<rect x="518.42" y="331.54" width="18.26" height="18.64" fill="#e1bec0" />
<rect x="535.98" y="331.54" width="18.26" height="18.64" fill="#f4f0ea" />
<rect x="553.54" y="331.54" width="17.56" height="18.64" fill="#f5f2ec" />
<rect x="483.30" y="349.48" width="18.26" height="18.64" fill="#ecdeda" />
<rect x="500.86" y="349.48" width="18.26" height="18.64" fill="#e1bebf" />
<rect x="518.42" y="349.48" width="18.26" height="18.64" fill="#895189" />
<rect x="535.98" y="349.48" width="18.26" height="18.64" fill="#f4f1eb" />
<rect x="553.54" y="349.48" width="17.56" height="18.64" fill="#f5f2ec" />
<rect x="483.30" y="367.42" width="18.26" height="18.64" fill="#f5f2ec" />
<rect x="500.86" y="367.42" width="18.26" height="18.64" fill="#f5f2ec" />
<rect x="518.42" y="367.42" width="18.26" height="18.64" fill="#f5f2ec" />
<rect x="535.98" y="367.42" width="18.26" height="18.64" fill="#2f1e41" />
<rect x="553.54" y="367.42" width="17.56" height="18.64" fill="#f5f2ec" />
<rect x="483.30" y="385.36" width="18.26" height="17.94" fill="#f5f2ec" />
<rect x="500.86" y="385.36" width="18.26" height="17.94" fill="#f5f2ec" />
<rect x="518.42" y="385.36" width="18.26" height="17.94" fill="#f5f2ec" />
<rect x="535.98" y="385.36" width="18.26" height="17.94" fill="#f5f2ec" />
<rect x="553.54" y="385.36" width="17.56" height="17.94" fill="#2f1e41" />
<text x="492.08" y="324.55" font-family='"Liberation Sans", sans-serif' font-size="6.72" font-weight="normal" fill="#f4f4f4" text-anchor="middle" textLength="12.46" lengthAdjust="spacingAndGlyphs" >67.2</text>
<text x="509.64" y="324.55" font-family='"Liberation Sans", sans-serif' font-size="6.72" font-weight="normal" fill="#3a3a3a" text-anchor="middle" textLength="12.46" lengthAdjust="spacingAndGlyphs" >12.2</text>
<text x="527.20" y="324.55" font-family='"Liberation Sans", sans-serif' font-size="6.72" font-weight="normal" fill="#3a3a3a" text-anchor="middle" textLength="12.46" lengthAdjust="spacingAndGlyphs" >18.8</text>
<text x="544.76" y="324.55" font-family='"Liberation Sans", sans-serif' font-size="6.72" font-weight="normal" fill="#3a3a3a" text-anchor="middle" textLength="8.90" lengthAdjust="spacingAndGlyphs" >1.0</text>
<text x="562.32" y="324.55" font-family='"Liberation Sans", sans-serif' font-size="6.72" font-weight="normal" fill="#3a3a3a" text-anchor="middle" textLength="8.90" lengthAdjust="spacingAndGlyphs" >0.8</text>
<text x="492.08" y="342.49" font-family='"Liberation Sans", sans-serif' font-size="6.72" font-weight="normal" fill="#3a3a3a" text-anchor="middle" textLength="8.90" lengthAdjust="spacingAndGlyphs" >7.7</text>
<text x="509.64" y="342.49" font-family='"Liberation Sans", sans-serif' font-size="6.72" font-weight="normal" fill="#f4f4f4" text-anchor="middle" textLength="12.46" lengthAdjust="spacingAndGlyphs" >65.5</text>
<text x="527.20" y="342.49" font-family='"Liberation Sans", sans-serif' font-size="6.72" font-weight="normal" fill="#3a3a3a" text-anchor="middle" textLength="12.46" lengthAdjust="spacingAndGlyphs" >22.2</text>
<text x="544.76" y="342.49" font-family='"Liberation Sans", sans-serif' font-size="6.72" font-weight="normal" fill="#3a3a3a" text-anchor="middle" textLength="8.90" lengthAdjust="spacingAndGlyphs" >4.1</text>
<text x="562.32" y="342.49" font-family='"Liberation Sans", sans-serif' font-size="6.72" font-weight="normal" fill="#3a3a3a" text-anchor="middle" textLength="8.90" lengthAdjust="spacingAndGlyphs" >0.4</text>
<text x="492.08" y="360.43" font-family='"Liberation Sans", sans-serif' font-size="6.72" font-weight="normal" fill="#3a3a3a" text-anchor="middle" textLength="8.90" lengthAdjust="spacingAndGlyphs" >9.0</text>
<text x="509.64" y="360.43" font-family='"Liberation Sans", sans-serif' font-size="6.72" font-weight="normal" fill="#3a3a3a" text-anchor="middle" textLength="12.46" lengthAdjust="spacingAndGlyphs" >22.5</text>
<text x="527.20" y="360.43" font-family='"Liberation Sans", sans-serif' font-size="6.72" font-weight="normal" fill="#f4f4f4" text-anchor="middle" textLength="12.46" lengthAdjust="spacingAndGlyphs" >65.5</text>
<text x="544.76" y="360.43" font-family='"Liberation Sans", sans-serif' font-size="6.72" font-weight="normal" fill="#3a3a3a" text-anchor="middle" textLength="8.90" lengthAdjust="spacingAndGlyphs" >2.8</text>
<text x="562.32" y="360.43" font-family='"Liberation Sans", sans-serif' font-size="6.72" font-weight="normal" fill="#3a3a3a" text-anchor="middle" textLength="8.90" lengthAdjust="spacingAndGlyphs" >0.2</text>
<text x="492.08" y="378.37" font-family='"Liberation Sans", sans-serif' font-size="6.72" font-weight="normal" fill="#3a3a3a" text-anchor="middle" textLength="8.90" lengthAdjust="spacingAndGlyphs" >0.8</text>
<text x="509.64" y="378.37" font-family='"Liberation Sans", sans-serif' font-size="6.72" font-weight="normal" fill="#3a3a3a" text-anchor="middle" textLength="8.90" lengthAdjust="spacingAndGlyphs" >0.6</text>
<text x="527.20" y="378.37" font-family='"Liberation Sans", sans-serif' font-size="6.72" font-weight="normal" fill="#3a3a3a" text-anchor="middle" textLength="8.90" lengthAdjust="spacingAndGlyphs" >0.8</text>
<text x="544.76" y="378.37" font-family='"Liberation Sans", sans-serif' font-size="6.72" font-weight="normal" fill="#f4f4f4" text-anchor="middle" textLength="12.46" lengthAdjust="spacingAndGlyphs" >97.7</text>
<text x="562.32" y="378.37" font-family='"Liberation Sans", sans-serif' font-size="6.72" font-weight="normal" fill="#3a3a3a" text-anchor="middle" textLength="8.90" lengthAdjust="spacingAndGlyphs" >0.0</text>
<text x="492.08" y="396.31" font-family='"Liberation Sans", sans-serif' font-size="6.72" font-weight="normal" fill="#3a3a3a" text-anchor="middle" textLength="8.90" lengthAdjust="spacingAndGlyphs" >1.0</text>
<text x="509.64" y="396.31" font-family='"Liberation Sans", sans-serif' font-size="6.72" font-weight="normal" fill="#3a3a3a" text-anchor="middle" textLength="8.90" lengthAdjust="spacingAndGlyphs" >0.4</text>
<text x="527.20" y="396.31" font-family='"Liberation Sans", sans-serif' font-size="6.72" font-weight="normal" fill="#3a3a3a" text-anchor="middle" textLength="8.90" lengthAdjust="spacingAndGlyphs" >0.5</text>
<text x="544.76" y="396.31" font-family='"Liberation Sans", sans-serif' font-size="6.72" font-weight="normal" fill="#3a3a3a" text-anchor="middle" textLength="8.90" lengthAdjust="spacingAndGlyphs" >0.5</text>
<text x="562.32" y="396.31" font-family='"Liberation Sans", sans-serif' font-size="6.72" font-weight="normal" fill="#f4f4f4" text-anchor="middle" textLength="12.46" lengthAdjust="spacingAndGlyphs" >97.6</text>
<rect x="483.30" y="313.60" width="17.56" height="17.94" fill="none" stroke="#e8322a" stroke-width="0.95"/>
<rect x="500.86" y="331.54" width="17.56" height="17.94" fill="none" stroke="#e8322a" stroke-width="0.95"/>
<rect x="518.42" y="349.48" width="17.56" height="17.94" fill="none" stroke="#e8322a" stroke-width="0.95"/>
<rect x="535.98" y="367.42" width="17.56" height="17.94" fill="none" stroke="#e8322a" stroke-width="0.95"/>
<rect x="553.54" y="385.36" width="17.56" height="17.94" fill="none" stroke="#e8322a" stroke-width="0.95"/>
<line x1="480.30" y1="322.57" x2="483.30" y2="322.57" stroke="#262626" stroke-width="0.75"/>
<text x="480.80" y="324.67" font-family='"Liberation Sans", sans-serif' font-size="7.49" font-weight="normal" fill="#262626" text-anchor="end" textLength="8.22" lengthAdjust="spacingAndGlyphs" >1S</text>
<line x1="480.30" y1="340.51" x2="483.30" y2="340.51" stroke="#262626" stroke-width="0.75"/>
<text x="480.80" y="342.61" font-family='"Liberation Sans", sans-serif' font-size="7.49" font-weight="normal" fill="#262626" text-anchor="end" textLength="16.06" lengthAdjust="spacingAndGlyphs" >1SAc</text>
<line x1="480.30" y1="358.45" x2="483.30" y2="358.45" stroke="#262626" stroke-width="0.75"/>
<text x="480.80" y="360.55" font-family='"Liberation Sans", sans-serif' font-size="7.49" font-weight="normal" fill="#262626" text-anchor="end" textLength="17.56" lengthAdjust="spacingAndGlyphs" >1SMe</text>
<line x1="480.30" y1="376.39" x2="483.30" y2="376.39" stroke="#262626" stroke-width="0.75"/>
<text x="480.80" y="378.49" font-family='"Liberation Sans", sans-serif' font-size="7.49" font-weight="normal" fill="#262626" text-anchor="end" textLength="17.18" lengthAdjust="spacingAndGlyphs" >1Soct</text>
<line x1="480.30" y1="394.33" x2="483.30" y2="394.33" stroke="#262626" stroke-width="0.75"/>
<text x="480.80" y="396.43" font-family='"Liberation Sans", sans-serif' font-size="7.49" font-weight="normal" fill="#262626" text-anchor="end" textLength="11.96" lengthAdjust="spacingAndGlyphs" >1pS</text>
<line x1="492.08" y1="403.30" x2="492.08" y2="406.30" stroke="#262626" stroke-width="0.75"/>
<text x="492.08" y="412.40" font-family='"Liberation Sans", sans-serif' font-size="7.49" font-weight="normal" fill="#262626" text-anchor="middle" textLength="8.22" lengthAdjust="spacingAndGlyphs" >1S</text>
<line x1="509.64" y1="403.30" x2="509.64" y2="406.30" stroke="#262626" stroke-width="0.75"/>
<text x="509.64" y="412.40" font-family='"Liberation Sans", sans-serif' font-size="7.49" font-weight="normal" fill="#262626" text-anchor="middle" textLength="16.06" lengthAdjust="spacingAndGlyphs" >1SAc</text>
<line x1="527.20" y1="403.30" x2="527.20" y2="406.30" stroke="#262626" stroke-width="0.75"/>
<text x="527.20" y="412.40" font-family='"Liberation Sans", sans-serif' font-size="7.49" font-weight="normal" fill="#262626" text-anchor="middle" textLength="17.56" lengthAdjust="spacingAndGlyphs" >1SMe</text>
<line x1="544.76" y1="403.30" x2="544.76" y2="406.30" stroke="#262626" stroke-width="0.75"/>
<text x="544.76" y="412.40" font-family='"Liberation Sans", sans-serif' font-size="7.49" font-weight="normal" fill="#262626" text-anchor="middle" textLength="17.18" lengthAdjust="spacingAndGlyphs" >1Soct</text>
<line x1="562.32" y1="403.30" x2="562.32" y2="406.30" stroke="#262626" stroke-width="0.75"/>
<text x="562.32" y="412.40" font-family='"Liberation Sans", sans-serif' font-size="7.49" font-weight="normal" fill="#262626" text-anchor="middle" textLength="11.96" lengthAdjust="spacingAndGlyphs" >1pS</text>
<rect x="597.20" y="313.60" width="29.67" height="30.60" fill="#3d2552" />
<rect x="626.17" y="313.60" width="29.67" height="30.60" fill="#f4f0ea" />
<rect x="655.13" y="313.60" width="28.97" height="30.60" fill="#f4f0ea" />
<rect x="597.20" y="343.50" width="29.67" height="30.60" fill="#f5f1eb" />
<rect x="626.17" y="343.50" width="29.67" height="30.60" fill="#472a5b" />
<rect x="655.13" y="343.50" width="28.97" height="30.60" fill="#ead9d5" />
<rect x="597.20" y="373.40" width="29.67" height="29.90" fill="#f3eee8" />
<rect x="626.17" y="373.40" width="29.67" height="29.90" fill="#d6a3ad" />
<rect x="655.13" y="373.40" width="28.97" height="29.90" fill="#885188" />
<text x="611.68" y="331.53" font-family='"Liberation Sans", sans-serif' font-size="10.08" font-weight="normal" fill="#f4f4f4" text-anchor="middle" textLength="18.68" lengthAdjust="spacingAndGlyphs" >92.0</text>
<text x="640.65" y="331.53" font-family='"Liberation Sans", sans-serif' font-size="10.08" font-weight="normal" fill="#3a3a3a" text-anchor="middle" textLength="13.35" lengthAdjust="spacingAndGlyphs" >3.9</text>
<text x="669.62" y="331.53" font-family='"Liberation Sans", sans-serif' font-size="10.08" font-weight="normal" fill="#3a3a3a" text-anchor="middle" textLength="13.35" lengthAdjust="spacingAndGlyphs" >4.1</text>
<text x="611.68" y="361.43" font-family='"Liberation Sans", sans-serif' font-size="10.08" font-weight="normal" fill="#3a3a3a" text-anchor="middle" textLength="13.35" lengthAdjust="spacingAndGlyphs" >1.7</text>
<text x="640.65" y="361.43" font-family='"Liberation Sans", sans-serif' font-size="10.08" font-weight="normal" fill="#f4f4f4" text-anchor="middle" textLength="18.68" lengthAdjust="spacingAndGlyphs" >87.6</text>
<text x="669.62" y="361.43" font-family='"Liberation Sans", sans-serif' font-size="10.08" font-weight="normal" fill="#3a3a3a" text-anchor="middle" textLength="18.68" lengthAdjust="spacingAndGlyphs" >10.7</text>
<text x="611.68" y="391.33" font-family='"Liberation Sans", sans-serif' font-size="10.08" font-weight="normal" fill="#3a3a3a" text-anchor="middle" textLength="13.35" lengthAdjust="spacingAndGlyphs" >4.5</text>
<text x="640.65" y="391.33" font-family='"Liberation Sans", sans-serif' font-size="10.08" font-weight="normal" fill="#3a3a3a" text-anchor="middle" textLength="18.68" lengthAdjust="spacingAndGlyphs" >29.1</text>
<text x="669.62" y="391.33" font-family='"Liberation Sans", sans-serif' font-size="10.08" font-weight="normal" fill="#f4f4f4" text-anchor="middle" textLength="18.68" lengthAdjust="spacingAndGlyphs" >66.4</text>
<rect x="597.20" y="313.60" width="28.97" height="29.90" fill="none" stroke="#e8322a" stroke-width="0.95"/>
<rect x="626.17" y="343.50" width="28.97" height="29.90" fill="none" stroke="#e8322a" stroke-width="0.95"/>
<rect x="655.13" y="373.40" width="28.97" height="29.90" fill="none" stroke="#e8322a" stroke-width="0.95"/>
<line x1="594.20" y1="328.55" x2="597.20" y2="328.55" stroke="#262626" stroke-width="0.75"/>
<text x="593.20" y="330.47" font-family='"Liberation Sans", sans-serif' font-size="6.85" font-weight="normal" fill="#262626" text-anchor="end" textLength="7.52" lengthAdjust="spacingAndGlyphs" >1S</text>
<line x1="594.20" y1="358.45" x2="597.20" y2="358.45" stroke="#262626" stroke-width="0.75"/>
<text x="593.20" y="360.37" font-family='"Liberation Sans", sans-serif' font-size="6.85" font-weight="normal" fill="#262626" text-anchor="end" textLength="14.69" lengthAdjust="spacingAndGlyphs" >3SAc</text>
<line x1="594.20" y1="388.35" x2="597.20" y2="388.35" stroke="#262626" stroke-width="0.75"/>
<text x="593.20" y="390.27" font-family='"Liberation Sans", sans-serif' font-size="6.85" font-weight="normal" fill="#262626" text-anchor="end" textLength="16.05" lengthAdjust="spacingAndGlyphs" >3SMe</text>
<line x1="611.68" y1="403.30" x2="611.68" y2="406.30" stroke="#262626" stroke-width="0.75"/>
<text x="611.68" y="412.60" font-family='"Liberation Sans", sans-serif' font-size="6.85" font-weight="normal" fill="#262626" text-anchor="middle" textLength="7.52" lengthAdjust="spacingAndGlyphs" >1S</text>
<line x1="640.65" y1="403.30" x2="640.65" y2="406.30" stroke="#262626" stroke-width="0.75"/>
<text x="640.65" y="412.60" font-family='"Liberation Sans", sans-serif' font-size="6.85" font-weight="normal" fill="#262626" text-anchor="middle" textLength="14.69" lengthAdjust="spacingAndGlyphs" >3SAc</text>
<line x1="669.62" y1="403.30" x2="669.62" y2="406.30" stroke="#262626" stroke-width="0.75"/>
<text x="669.62" y="412.60" font-family='"Liberation Sans", sans-serif' font-size="6.85" font-weight="normal" fill="#262626" text-anchor="middle" textLength="16.05" lengthAdjust="spacingAndGlyphs" >3SMe</text>
<rect x="49.30" y="453.40" width="44.35" height="45.75" fill="#322045" />
<rect x="92.95" y="453.40" width="43.65" height="45.75" fill="#f4f0ea" />
<rect x="49.30" y="498.45" width="44.35" height="45.05" fill="#f0e8e3" />
<rect x="92.95" y="498.45" width="43.65" height="45.05" fill="#38234d" />
<text x="71.12" y="478.87" font-family='"Liberation Sans", sans-serif' font-size="9.97" font-weight="normal" fill="#f4f4f4" text-anchor="middle" textLength="18.49" lengthAdjust="spacingAndGlyphs" >96.4</text>
<text x="114.77" y="478.87" font-family='"Liberation Sans", sans-serif' font-size="9.97" font-weight="normal" fill="#3a3a3a" text-anchor="middle" textLength="13.21" lengthAdjust="spacingAndGlyphs" >3.6</text>
<text x="71.12" y="523.92" font-family='"Liberation Sans", sans-serif' font-size="9.97" font-weight="normal" fill="#3a3a3a" text-anchor="middle" textLength="13.21" lengthAdjust="spacingAndGlyphs" >6.0</text>
<text x="114.77" y="523.92" font-family='"Liberation Sans", sans-serif' font-size="9.97" font-weight="normal" fill="#f4f4f4" text-anchor="middle" textLength="18.49" lengthAdjust="spacingAndGlyphs" >94.0</text>
<rect x="49.30" y="453.40" width="43.65" height="45.05" fill="none" stroke="#e8322a" stroke-width="0.95"/>
<rect x="92.95" y="498.45" width="43.65" height="45.05" fill="none" stroke="#e8322a" stroke-width="0.95"/>
<line x1="46.30" y1="475.92" x2="49.30" y2="475.92" stroke="#262626" stroke-width="0.75"/>
<text x="43.80" y="478.77" font-family='"Liberation Sans", sans-serif' font-size="10.17" font-weight="normal" fill="#262626" text-anchor="end" textLength="25.36" lengthAdjust="spacingAndGlyphs" >hp1_7</text>
<line x1="46.30" y1="520.98" x2="49.30" y2="520.98" stroke="#262626" stroke-width="0.75"/>
<text x="43.80" y="523.83" font-family='"Liberation Sans", sans-serif' font-size="10.17" font-weight="normal" fill="#262626" text-anchor="end" textLength="23.32" lengthAdjust="spacingAndGlyphs" >Q40E</text>
<line x1="71.12" y1="543.50" x2="71.12" y2="546.50" stroke="#262626" stroke-width="0.75"/>
<text x="71.12" y="557.40" font-family='"Liberation Sans", sans-serif' font-size="10.17" font-weight="normal" fill="#262626" text-anchor="middle" textLength="25.36" lengthAdjust="spacingAndGlyphs" >hp1_7</text>
<line x1="114.77" y1="543.50" x2="114.77" y2="546.50" stroke="#262626" stroke-width="0.75"/>
<text x="114.77" y="557.40" font-family='"Liberation Sans", sans-serif' font-size="10.17" font-weight="normal" fill="#262626" text-anchor="middle" textLength="23.32" lengthAdjust="spacingAndGlyphs" >Q40E</text>
<rect x="282.70" y="453.00" width="31.07" height="31.97" fill="#2e1e40" />
<rect x="313.07" y="453.00" width="31.07" height="31.97" fill="#f5f1eb" />
<rect x="343.43" y="453.00" width="30.37" height="31.97" fill="#f5f2ec" />
<rect x="282.70" y="484.27" width="31.07" height="31.97" fill="#f5f2ec" />
<rect x="313.07" y="484.27" width="31.07" height="31.97" fill="#301f42" />
<rect x="343.43" y="484.27" width="30.37" height="31.97" fill="#f4f1eb" />
<rect x="282.70" y="515.53" width="31.07" height="31.27" fill="#f5f2ec" />
<rect x="313.07" y="515.53" width="31.07" height="31.27" fill="#f3eee8" />
<rect x="343.43" y="515.53" width="30.37" height="31.27" fill="#352149" />
<text x="297.88" y="471.70" font-family='"Liberation Sans", sans-serif' font-size="10.40" font-weight="normal" fill="#f4f4f4" text-anchor="middle" textLength="19.27" lengthAdjust="spacingAndGlyphs" >98.0</text>
<text x="328.25" y="471.70" font-family='"Liberation Sans", sans-serif' font-size="10.40" font-weight="normal" fill="#3a3a3a" text-anchor="middle" textLength="13.76" lengthAdjust="spacingAndGlyphs" >1.9</text>
<text x="358.62" y="471.70" font-family='"Liberation Sans", sans-serif' font-size="10.40" font-weight="normal" fill="#3a3a3a" text-anchor="middle" textLength="13.76" lengthAdjust="spacingAndGlyphs" >0.1</text>
<text x="297.88" y="502.97" font-family='"Liberation Sans", sans-serif' font-size="10.40" font-weight="normal" fill="#3a3a3a" text-anchor="middle" textLength="13.76" lengthAdjust="spacingAndGlyphs" >0.5</text>
<text x="328.25" y="502.97" font-family='"Liberation Sans", sans-serif' font-size="10.40" font-weight="normal" fill="#f4f4f4" text-anchor="middle" textLength="19.27" lengthAdjust="spacingAndGlyphs" >97.3</text>
<text x="358.62" y="502.97" font-family='"Liberation Sans", sans-serif' font-size="10.40" font-weight="normal" fill="#3a3a3a" text-anchor="middle" textLength="13.76" lengthAdjust="spacingAndGlyphs" >2.1</text>
<text x="297.88" y="534.24" font-family='"Liberation Sans", sans-serif' font-size="10.40" font-weight="normal" fill="#3a3a3a" text-anchor="middle" textLength="13.76" lengthAdjust="spacingAndGlyphs" >0.1</text>
<text x="328.25" y="534.24" font-family='"Liberation Sans", sans-serif' font-size="10.40" font-weight="normal" fill="#3a3a3a" text-anchor="middle" textLength="13.76" lengthAdjust="spacingAndGlyphs" >4.6</text>
<text x="358.62" y="534.24" font-family='"Liberation Sans", sans-serif' font-size="10.40" font-weight="normal" fill="#f4f4f4" text-anchor="middle" textLength="19.27" lengthAdjust="spacingAndGlyphs" >95.3</text>
<rect x="282.70" y="453.00" width="30.37" height="31.27" fill="none" stroke="#e8322a" stroke-width="0.95"/>
<rect x="313.07" y="484.27" width="30.37" height="31.27" fill="none" stroke="#e8322a" stroke-width="0.95"/>
<rect x="343.43" y="515.53" width="30.37" height="31.27" fill="none" stroke="#e8322a" stroke-width="0.95"/>
<line x1="279.70" y1="468.63" x2="282.70" y2="468.63" stroke="#262626" stroke-width="0.75"/>
<text x="277.20" y="471.48" font-family='"Liberation Sans", sans-serif' font-size="10.17" font-weight="normal" fill="#262626" text-anchor="end" textLength="29.76" lengthAdjust="spacingAndGlyphs" >hp3_11</text>
<line x1="279.70" y1="499.90" x2="282.70" y2="499.90" stroke="#262626" stroke-width="0.75"/>
<text x="277.20" y="502.75" font-family='"Liberation Sans", sans-serif' font-size="10.17" font-weight="normal" fill="#262626" text-anchor="end" textLength="21.30" lengthAdjust="spacingAndGlyphs" >pS88</text>
<line x1="279.70" y1="531.17" x2="282.70" y2="531.17" stroke="#262626" stroke-width="0.75"/>
<line x1="297.88" y1="546.80" x2="297.88" y2="549.80" stroke="#262626" stroke-width="0.75"/>
<text x="297.88" y="561.00" font-family='"Liberation Sans", sans-serif' font-size="10.17" font-weight="normal" fill="#262626" text-anchor="middle" textLength="29.76" lengthAdjust="spacingAndGlyphs" >hp3_11</text>
<line x1="328.25" y1="546.80" x2="328.25" y2="549.80" stroke="#262626" stroke-width="0.75"/>
<text x="328.25" y="561.00" font-family='"Liberation Sans", sans-serif' font-size="10.17" font-weight="normal" fill="#262626" text-anchor="middle" textLength="21.30" lengthAdjust="spacingAndGlyphs" >pS88</text>
<line x1="358.62" y1="546.80" x2="358.62" y2="549.80" stroke="#262626" stroke-width="0.75"/>
<text x="358.60" y="561.00" font-family='"Liberation Sans", sans-serif' font-size="8.00" font-weight="normal" fill="#262626" text-anchor="middle" >pS87/88</text>
<text x="277.40" y="528.30" font-family='"Liberation Sans", sans-serif' font-size="9.50" font-weight="normal" fill="#262626" text-anchor="end" >pS87</text>
<text x="277.40" y="540.90" font-family='"Liberation Sans", sans-serif' font-size="9.50" font-weight="normal" fill="#262626" text-anchor="end" >pS88</text>
<defs><clipPath id="clip446"><rect x="476.30" y="28.20" width="87.60" height="86.20"/></clipPath></defs>
<rect x="476.30" y="28.20" width="87.60" height="86.20" fill="#f6fcd9" />
<g clip-path="url(#clip446)">
<path d="M476.5,88.9 L483.4,87.5 L485.4,85.5 L487.4,86.2 L490.1,84.8 L497.5,84.8 L499.0,86.5 L503.5,92.2 L505.6,91.6 L508.9,94.2 L521.0,97.0 L534.4,99.0 L545.2,100.3 L551.9,99.0 L554.6,94.9 L557.3,88.2 L561.3,86.2 L563.5,82.8" fill="none" stroke="#c7e9b4" stroke-width="10.9" stroke-opacity="0.6" stroke-linejoin="round" filter="url(#blur3)"/>
<path d="M546.0,88.5 L556.0,88.5" fill="none" stroke="#41b6c4" stroke-width="2.5" stroke-opacity="0.45" stroke-linejoin="round" filter="url(#blur3)"/>
<path d="M498.0,83.0 L508.0,85.0 L518.0,88.0 L535.0,93.0 L545.0,96.0 L521.0,96.0 L508.9,93.5 L505.6,91.0 L503.5,91.5 L499.0,86.0 Z" fill="#5fb5c6" fill-opacity="0.42" filter="url(#blur2)"/>
<path d="M476.5,88.9 L483.4,87.5 L485.4,85.5 L487.4,86.2 L490.1,84.8 L497.5,84.8 L499.0,86.5 L503.5,92.2 L505.6,91.6 L508.9,94.2 L521.0,97.0 L534.4,99.0 L545.2,100.3 L551.9,99.0 L554.6,94.9 L557.3,88.2 L561.3,86.2 L563.5,82.8" fill="none" stroke="#41b6c4" stroke-width="5.3" stroke-opacity="0.75" stroke-linejoin="round" filter="url(#blur1b)"/>
<path d="M476.5,88.9 L483.4,87.5 L485.4,85.5 L487.4,86.2 L490.1,84.8 L497.5,84.8 L499.0,86.5 L503.5,92.2 L505.6,91.6 L508.9,94.2 L521.0,97.0 L534.4,99.0 L545.2,100.3 L551.9,99.0 L554.6,94.9 L557.3,88.2 L561.3,86.2 L563.5,82.8" fill="none" stroke="#1d3f8f" stroke-width="3.7" stroke-opacity="0.8" stroke-linejoin="round" filter="url(#blur1)"/>
<path d="M476.5,88.9 L483.4,87.5 L485.4,85.5 L487.4,86.2 L490.1,84.8 L497.5,84.8 L499.0,86.5 L503.5,92.2 L505.6,91.6 L508.9,94.2 L521.0,97.0 L534.4,99.0 L545.2,100.3 L551.9,99.0 L554.6,94.9 L557.3,88.2 L561.3,86.2 L563.5,82.8" fill="none" stroke="#0b1d5e" stroke-width="2.9" stroke-linejoin="round" filter="url(#blur1)"/>
<line x1="484.5" y1="76.0" x2="484.5" y2="86.0" stroke="#2c5fa0" stroke-width="0.9" stroke-opacity="0.7" filter="url(#blur1)"/>
<rect x="475.6" y="68.2" width="2.2" height="3.6" fill="#0b1d5e" filter="url(#blur1)"/>
<line x1="563.4" y1="74.0" x2="563.4" y2="84.0" stroke="#1f4e9a" stroke-width="1.4" stroke-opacity="0.8" filter="url(#blur1)"/>
</g>
<defs><clipPath id="clip459"><rect x="576.80" y="28.00" width="88.00" height="86.00"/></clipPath></defs>
<rect x="576.80" y="28.00" width="88.00" height="86.00" fill="#f6fcd9" />
<g clip-path="url(#clip459)">
<path d="M577.5,88.9 L587.0,87.5 L588.8,84.8 L594.1,86.2 L598.2,84.8 L600.9,87.5 L604.9,92.2 L608.9,94.2 L621.0,97.0 L634.4,99.6 L643.8,101.6 L651.9,99.0 L654.6,90.9 L655.9,88.2 L662.6,86.9 L664.5,82.8" fill="none" stroke="#c7e9b4" stroke-width="10.9" stroke-opacity="0.6" stroke-linejoin="round" filter="url(#blur3)"/>
<path d="M646.0,89.0 L655.0,89.0" fill="none" stroke="#41b6c4" stroke-width="2.5" stroke-opacity="0.45" stroke-linejoin="round" filter="url(#blur3)"/>
<path d="M600.0,83.0 L610.0,85.0 L620.0,88.0 L637.0,93.0 L647.0,97.0 L621.0,96.5 L608.9,93.5 L604.9,91.5 L600.9,87.0 Z" fill="#5fb5c6" fill-opacity="0.42" filter="url(#blur2)"/>
<path d="M577.5,88.9 L587.0,87.5 L588.8,84.8 L594.1,86.2 L598.2,84.8 L600.9,87.5 L604.9,92.2 L608.9,94.2 L621.0,97.0 L634.4,99.6 L643.8,101.6 L651.9,99.0 L654.6,90.9 L655.9,88.2 L662.6,86.9 L664.5,82.8" fill="none" stroke="#41b6c4" stroke-width="5.3" stroke-opacity="0.75" stroke-linejoin="round" filter="url(#blur1b)"/>
<path d="M577.5,88.9 L587.0,87.5 L588.8,84.8 L594.1,86.2 L598.2,84.8 L600.9,87.5 L604.9,92.2 L608.9,94.2 L621.0,97.0 L634.4,99.6 L643.8,101.6 L651.9,99.0 L654.6,90.9 L655.9,88.2 L662.6,86.9 L664.5,82.8" fill="none" stroke="#1d3f8f" stroke-width="3.7" stroke-opacity="0.8" stroke-linejoin="round" filter="url(#blur1)"/>
<path d="M577.5,88.9 L587.0,87.5 L588.8,84.8 L594.1,86.2 L598.2,84.8 L600.9,87.5 L604.9,92.2 L608.9,94.2 L621.0,97.0 L634.4,99.6 L643.8,101.6 L651.9,99.0 L654.6,90.9 L655.9,88.2 L662.6,86.9 L664.5,82.8" fill="none" stroke="#0b1d5e" stroke-width="2.9" stroke-linejoin="round" filter="url(#blur1)"/>
<line x1="588.1" y1="75.0" x2="588.1" y2="86.0" stroke="#2c5fa0" stroke-width="0.9" stroke-opacity="0.7" filter="url(#blur1)"/>
<line x1="598.2" y1="77.0" x2="598.2" y2="85.0" stroke="#2c5fa0" stroke-width="0.9" stroke-opacity="0.7" filter="url(#blur1)"/>
<rect x="576.4" y="68.2" width="2.2" height="3.6" fill="#0b1d5e" filter="url(#blur1)"/>
<line x1="664.3" y1="74.0" x2="664.3" y2="84.0" stroke="#1f4e9a" stroke-width="1.4" stroke-opacity="0.8" filter="url(#blur1)"/>
</g>
<text x="480.10" y="40.70" font-size="10.00" text-anchor="start" xml:space="preserve" textLength="79.40" lengthAdjust="spacingAndGlyphs"><tspan font-family='"Liberation Sans", sans-serif' font-weight="bold" fill="#111">3I: </tspan><tspan font-family='"Liberation Sans", sans-serif' font-weight="normal" fill="#4a4a4a">GSG</tspan><tspan font-family='"Liberation Mono", monospace' font-weight="bold" fill="#e53222">III</tspan><tspan font-family='"Liberation Sans", sans-serif' font-weight="normal" fill="#4a4a4a">GSGK</tspan></text>
<text x="579.80" y="40.70" font-size="10.00" text-anchor="start" xml:space="preserve" textLength="83.30" lengthAdjust="spacingAndGlyphs"><tspan font-family='"Liberation Sans", sans-serif' font-weight="bold" fill="#111">3L: </tspan><tspan font-family='"Liberation Sans", sans-serif' font-weight="normal" fill="#4a4a4a">GSG</tspan><tspan font-family='"Liberation Mono", monospace' font-weight="bold" fill="#e53222">LLL</tspan><tspan font-family='"Liberation Sans", sans-serif' font-weight="normal" fill="#4a4a4a">GSGK</tspan></text>
<defs><linearGradient id="g475" x1="0" y1="1" x2="0" y2="0"><stop offset="0.0" stop-color="#ffffd9"/><stop offset="0.125" stop-color="#edf8b1"/><stop offset="0.25" stop-color="#c7e9b4"/><stop offset="0.375" stop-color="#7fcdbb"/><stop offset="0.5" stop-color="#41b6c4"/><stop offset="0.625" stop-color="#1d91c0"/><stop offset="0.75" stop-color="#225ea8"/><stop offset="0.875" stop-color="#253494"/><stop offset="1.0" stop-color="#081d58"/></linearGradient></defs>
<rect x="670.10" y="28.00" width="4.10" height="86.00" fill="url(#g475)" />
<line x1="674.20" y1="114.00" x2="675.70" y2="114.00" stroke="#262626" stroke-width="0.5"/>
<text x="676.40" y="115.66" font-family='"Liberation Sans", sans-serif' font-size="4.60" font-weight="normal" fill="#262626" text-anchor="start" >0.000</text>
<line x1="674.20" y1="96.80" x2="675.70" y2="96.80" stroke="#262626" stroke-width="0.5"/>
<text x="676.40" y="98.46" font-family='"Liberation Sans", sans-serif' font-size="4.60" font-weight="normal" fill="#262626" text-anchor="start" >0.020</text>
<line x1="674.20" y1="79.60" x2="675.70" y2="79.60" stroke="#262626" stroke-width="0.5"/>
<text x="676.40" y="81.26" font-family='"Liberation Sans", sans-serif' font-size="4.60" font-weight="normal" fill="#262626" text-anchor="start" >0.040</text>
<line x1="674.20" y1="62.40" x2="675.70" y2="62.40" stroke="#262626" stroke-width="0.5"/>
<text x="676.40" y="64.06" font-family='"Liberation Sans", sans-serif' font-size="4.60" font-weight="normal" fill="#262626" text-anchor="start" >0.060</text>
<line x1="674.20" y1="45.20" x2="675.70" y2="45.20" stroke="#262626" stroke-width="0.5"/>
<text x="676.40" y="46.86" font-family='"Liberation Sans", sans-serif' font-size="4.60" font-weight="normal" fill="#262626" text-anchor="start" >0.080</text>
<line x1="674.20" y1="28.00" x2="675.70" y2="28.00" stroke="#262626" stroke-width="0.5"/>
<text x="676.40" y="29.66" font-family='"Liberation Sans", sans-serif' font-size="4.60" font-weight="normal" fill="#262626" text-anchor="start" >0.100</text>
<defs><clipPath id="clip489"><rect x="137.20" y="171.00" width="98.80" height="96.00"/></clipPath></defs>
<rect x="137.20" y="171.00" width="98.80" height="96.00" fill="#f6fcd9" />
<g clip-path="url(#clip489)">
<path d="M139.3,238.7 L146.4,238.7 L147.9,235.7 L152.5,235.7 L154.7,240.2 L156.3,243.3 L160.8,240.2 L165.4,234.2 L169.2,232.6 L180.5,235.7 L195.7,238.7 L212.4,242.5 L217.0,241.0 L226.1,240.2 L235.5,239.5" fill="none" stroke="#c7e9b4" stroke-width="10.9" stroke-opacity="0.6" stroke-linejoin="round" filter="url(#blur3)"/>
<path d="M150.0,234.0 L160.0,236.0" fill="none" stroke="#41b6c4" stroke-width="4" stroke-opacity="0.3" stroke-linejoin="round" filter="url(#blur3)"/>
<path d="M139.3,238.7 L146.4,238.7 L147.9,235.7 L152.5,235.7 L154.7,240.2 L156.3,243.3 L160.8,240.2 L165.4,234.2 L169.2,232.6 L180.5,235.7 L195.7,238.7 L212.4,242.5 L217.0,241.0 L226.1,240.2 L235.5,239.5" fill="none" stroke="#41b6c4" stroke-width="5.3" stroke-opacity="0.75" stroke-linejoin="round" filter="url(#blur1b)"/>
<path d="M139.3,238.7 L146.4,238.7 L147.9,235.7 L152.5,235.7 L154.7,240.2 L156.3,243.3 L160.8,240.2 L165.4,234.2 L169.2,232.6 L180.5,235.7 L195.7,238.7 L212.4,242.5 L217.0,241.0 L226.1,240.2 L235.5,239.5" fill="none" stroke="#1d3f8f" stroke-width="3.7" stroke-opacity="0.8" stroke-linejoin="round" filter="url(#blur1)"/>
<path d="M139.3,238.7 L146.4,238.7 L147.9,235.7 L152.5,235.7 L154.7,240.2 L156.3,243.3 L160.8,240.2 L165.4,234.2 L169.2,232.6 L180.5,235.7 L195.7,238.7 L212.4,242.5 L217.0,241.0 L226.1,240.2 L235.5,239.5" fill="none" stroke="#0b1d5e" stroke-width="2.9" stroke-linejoin="round" filter="url(#blur1)"/>
<line x1="138.6" y1="218.2" x2="138.9" y2="238.7" stroke="#2c7fb8" stroke-width="1.0" stroke-opacity="0.55" filter="url(#blur1)"/>
<rect x="137.0" y="216.4" width="2.2" height="3.6" fill="#0b1d5e" filter="url(#blur1)"/>
<line x1="235.3" y1="222.0" x2="235.3" y2="238.0" stroke="#1f4e9a" stroke-width="1.4" stroke-opacity="0.8" filter="url(#blur1)"/>
</g>
<defs><clipPath id="clip501"><rect x="249.10" y="171.90" width="96.40" height="95.10"/></clipPath></defs>
<rect x="249.10" y="171.90" width="96.40" height="95.10" fill="#f6fcd9" />
<g clip-path="url(#clip501)">
<path d="M251.5,239.3 L262.0,236.4 L264.3,234.0 L265.0,234.2 L270.0,237.8 L277.0,242.2 L285.0,244.4 L300.0,243.2 L312.0,244.4 L315.0,247.3 L322.0,241.5 L328.0,238.3 L340.0,240.0 L345.5,238.6" fill="none" stroke="#c7e9b4" stroke-width="10.6" stroke-opacity="0.6" stroke-linejoin="round" filter="url(#blur3)"/>
<path d="M266.0,224.0 L280.0,230.0 L300.0,236.0 L318.0,238.0 L330.0,238.0 L322.0,241.5 L315.0,245.0 L300.0,242.0 L285.0,243.0 L277.0,241.0 L270.0,236.5 Z" fill="#5fb5c6" fill-opacity="0.4" filter="url(#blur2)"/>
<path d="M251.5,239.3 L262.0,236.4 L264.3,234.0 L265.0,234.2 L270.0,237.8 L277.0,242.2 L285.0,244.4 L300.0,243.2 L312.0,244.4 L315.0,247.3 L322.0,241.5 L328.0,238.3 L340.0,240.0 L345.5,238.6" fill="none" stroke="#41b6c4" stroke-width="5.0" stroke-opacity="0.75" stroke-linejoin="round" filter="url(#blur1b)"/>
<path d="M251.5,239.3 L262.0,236.4 L264.3,234.0 L265.0,234.2 L270.0,237.8 L277.0,242.2 L285.0,244.4 L300.0,243.2 L312.0,244.4 L315.0,247.3 L322.0,241.5 L328.0,238.3 L340.0,240.0 L345.5,238.6" fill="none" stroke="#1d3f8f" stroke-width="3.4000000000000004" stroke-opacity="0.8" stroke-linejoin="round" filter="url(#blur1)"/>
<path d="M251.5,239.3 L262.0,236.4 L264.3,234.0 L265.0,234.2 L270.0,237.8 L277.0,242.2 L285.0,244.4 L300.0,243.2 L312.0,244.4 L315.0,247.3 L322.0,241.5 L328.0,238.3 L340.0,240.0 L345.5,238.6" fill="none" stroke="#0b1d5e" stroke-width="2.6" stroke-linejoin="round" filter="url(#blur1)"/>
<line x1="264.3" y1="224.7" x2="264.3" y2="236.0" stroke="#2c5fa0" stroke-width="0.9" stroke-opacity="0.7" filter="url(#blur1)"/>
<line x1="250.4" y1="218.9" x2="250.7" y2="239.3" stroke="#2c7fb8" stroke-width="1.0" stroke-opacity="0.55" filter="url(#blur1)"/>
<rect x="248.8" y="217.1" width="2.2" height="3.6" fill="#0b1d5e" filter="url(#blur1)"/>
<line x1="345.2" y1="222.5" x2="345.2" y2="238.6" stroke="#1f4e9a" stroke-width="1.4" stroke-opacity="0.8" filter="url(#blur1)"/>
</g>
<defs><clipPath id="clip514"><rect x="479.00" y="170.50" width="97.70" height="96.50"/></clipPath></defs>
<rect x="479.00" y="170.50" width="97.70" height="96.50" fill="#f6fcd9" />
<g clip-path="url(#clip514)">
<path d="M481.3,238.7 L490.7,235.7 L492.9,233.5 L495.2,235.7 L496.7,238.0 L499.8,231.9 L502.0,234.2 L505.1,241.0 L510.4,244.0 L530.1,246.3 L545.3,247.8 L555.9,249.3 L563.5,247.0 L568.1,240.2 L572.6,237.2 L576.5,233.4" fill="none" stroke="#c7e9b4" stroke-width="10.9" stroke-opacity="0.6" stroke-linejoin="round" filter="url(#blur3)"/>
<path d="M503.0,232.0 L515.0,235.0 L530.0,238.0" fill="none" stroke="#41b6c4" stroke-width="5" stroke-opacity="0.18" stroke-linejoin="round" filter="url(#blur3)"/>
<path d="M481.3,238.7 L490.7,235.7 L492.9,233.5 L495.2,235.7 L496.7,238.0 L499.8,231.9 L502.0,234.2 L505.1,241.0 L510.4,244.0 L530.1,246.3 L545.3,247.8 L555.9,249.3 L563.5,247.0 L568.1,240.2 L572.6,237.2 L576.5,233.4" fill="none" stroke="#41b6c4" stroke-width="5.3" stroke-opacity="0.75" stroke-linejoin="round" filter="url(#blur1b)"/>
<path d="M481.3,238.7 L490.7,235.7 L492.9,233.5 L495.2,235.7 L496.7,238.0 L499.8,231.9 L502.0,234.2 L505.1,241.0 L510.4,244.0 L530.1,246.3 L545.3,247.8 L555.9,249.3 L563.5,247.0 L568.1,240.2 L572.6,237.2 L576.5,233.4" fill="none" stroke="#1d3f8f" stroke-width="3.7" stroke-opacity="0.8" stroke-linejoin="round" filter="url(#blur1)"/>
<path d="M481.3,238.7 L490.7,235.7 L492.9,233.5 L495.2,235.7 L496.7,238.0 L499.8,231.9 L502.0,234.2 L505.1,241.0 L510.4,244.0 L530.1,246.3 L545.3,247.8 L555.9,249.3 L563.5,247.0 L568.1,240.2 L572.6,237.2 L576.5,233.4" fill="none" stroke="#0b1d5e" stroke-width="2.9" stroke-linejoin="round" filter="url(#blur1)"/>
<line x1="492.9" y1="227.0" x2="492.9" y2="236.0" stroke="#2c5fa0" stroke-width="0.9" stroke-opacity="0.7" filter="url(#blur1)"/>
<line x1="480.3" y1="217.5" x2="480.6" y2="238.7" stroke="#2c7fb8" stroke-width="1.0" stroke-opacity="0.55" filter="url(#blur1)"/>
<rect x="478.7" y="215.7" width="2.2" height="3.6" fill="#0b1d5e" filter="url(#blur1)"/>
<line x1="576.3" y1="222.0" x2="576.3" y2="234.0" stroke="#1f4e9a" stroke-width="1.4" stroke-opacity="0.8" filter="url(#blur1)"/>
</g>
<defs><clipPath id="clip527"><rect x="587.00" y="170.10" width="98.00" height="96.90"/></clipPath></defs>
<rect x="587.00" y="170.10" width="98.00" height="96.90" fill="#f6fcd9" />
<g clip-path="url(#clip527)">
<path d="M589.5,239.5 L597.7,237.2 L598.5,235.0 L600.0,237.2 L603.0,244.8 L606.0,238.0 L612.9,242.5 L626.5,244.0 L641.7,245.5 L658.4,248.6 L659.9,249.5 L666.0,244.8 L678.2,239.5 L685.0,235.7" fill="none" stroke="#c7e9b4" stroke-width="11.0" stroke-opacity="0.6" stroke-linejoin="round" filter="url(#blur3)"/>
<path d="M606.0,236.0 L618.0,238.0 L630.0,240.0" fill="none" stroke="#41b6c4" stroke-width="5" stroke-opacity="0.18" stroke-linejoin="round" filter="url(#blur3)"/>
<path d="M589.5,239.5 L597.7,237.2 L598.5,235.0 L600.0,237.2 L603.0,244.8 L606.0,238.0 L612.9,242.5 L626.5,244.0 L641.7,245.5 L658.4,248.6 L659.9,249.5 L666.0,244.8 L678.2,239.5 L685.0,235.7" fill="none" stroke="#41b6c4" stroke-width="5.4" stroke-opacity="0.75" stroke-linejoin="round" filter="url(#blur1b)"/>
<path d="M589.5,239.5 L597.7,237.2 L598.5,235.0 L600.0,237.2 L603.0,244.8 L606.0,238.0 L612.9,242.5 L626.5,244.0 L641.7,245.5 L658.4,248.6 L659.9,249.5 L666.0,244.8 L678.2,239.5 L685.0,235.7" fill="none" stroke="#1d3f8f" stroke-width="3.8" stroke-opacity="0.8" stroke-linejoin="round" filter="url(#blur1)"/>
<path d="M589.5,239.5 L597.7,237.2 L598.5,235.0 L600.0,237.2 L603.0,244.8 L606.0,238.0 L612.9,242.5 L626.5,244.0 L641.7,245.5 L658.4,248.6 L659.9,249.5 L666.0,244.8 L678.2,239.5 L685.0,235.7" fill="none" stroke="#0b1d5e" stroke-width="3.0" stroke-linejoin="round" filter="url(#blur1)"/>
<line x1="598.5" y1="225.0" x2="598.5" y2="237.0" stroke="#2c5fa0" stroke-width="0.9" stroke-opacity="0.7" filter="url(#blur1)"/>
<line x1="588.4" y1="218.2" x2="588.7" y2="239.5" stroke="#2c7fb8" stroke-width="1.0" stroke-opacity="0.55" filter="url(#blur1)"/>
<rect x="586.8" y="216.4" width="2.2" height="3.6" fill="#0b1d5e" filter="url(#blur1)"/>
</g>
<text x="143.00" y="183.90" font-size="9.60" text-anchor="start" xml:space="preserve" textLength="84.70" lengthAdjust="spacingAndGlyphs"><tspan font-family='"Liberation Sans", sans-serif' font-weight="bold" fill="#111">1D: </tspan><tspan font-family='"Liberation Sans", sans-serif' font-weight="normal" fill="#4a4a4a">GSGS</tspan><tspan font-family='"Liberation Sans", sans-serif' font-weight="bold" fill="#e53222">D</tspan><tspan font-family='"Liberation Sans", sans-serif' font-weight="normal" fill="#4a4a4a">SGSGK</tspan></text>
<text x="253.00" y="184.10" font-size="9.60" text-anchor="start" xml:space="preserve" textLength="86.30" lengthAdjust="spacingAndGlyphs"><tspan font-family='"Liberation Sans", sans-serif' font-weight="bold" fill="#111">1D': </tspan><tspan font-family='"Liberation Sans", sans-serif' font-weight="normal" fill="#4a4a4a">GSGSGSGS</tspan><tspan font-family='"Liberation Sans", sans-serif' font-weight="bold" fill="#e53222">D</tspan><tspan font-family='"Liberation Sans", sans-serif' font-weight="normal" fill="#4a4a4a">K</tspan></text>
<text x="486.00" y="184.30" font-size="9.60" text-anchor="start" xml:space="preserve" textLength="82.70" lengthAdjust="spacingAndGlyphs"><tspan font-family='"Liberation Sans", sans-serif' font-weight="bold" fill="#111">1Y: </tspan><tspan font-family='"Liberation Sans", sans-serif' font-weight="normal" fill="#4a4a4a">GSGS</tspan><tspan font-family='"Liberation Mono", monospace' font-weight="bold" fill="#e53222">Y</tspan><tspan font-family='"Liberation Sans", sans-serif' font-weight="normal" fill="#4a4a4a">SGSGK</tspan></text>
<text x="593.00" y="185.00" font-size="9.60" text-anchor="start" xml:space="preserve" textLength="85.70" lengthAdjust="spacingAndGlyphs"><tspan font-family='"Liberation Sans", sans-serif' font-weight="bold" fill="#111">1Y': </tspan><tspan font-family='"Liberation Sans", sans-serif' font-weight="normal" fill="#4a4a4a">GSGSGSGS</tspan><tspan font-family='"Liberation Mono", monospace' font-weight="bold" fill="#e53222">Y</tspan><tspan font-family='"Liberation Sans", sans-serif' font-weight="normal" fill="#4a4a4a">K</tspan></text>
<defs><clipPath id="clip543"><rect x="139.60" y="452.40" width="103.50" height="50.20"/></clipPath></defs>
<rect x="139.60" y="452.40" width="103.50" height="50.20" fill="#f6fcd9" />
<g clip-path="url(#clip543)">
<path d="M140.8,487.8 L145.0,486.2 L147.4,490.3 L149.8,491.1 L185.2,493.5 L209.3,494.6 L230.1,495.1 L232.6,490.3 L234.2,487.8 L241.4,487.0 L243.0,485.0" fill="none" stroke="#c7e9b4" stroke-width="10.1" stroke-opacity="0.6" stroke-linejoin="round" filter="url(#blur3)"/>
<path d="M140.8,487.8 L145.0,486.2 L147.4,490.3 L149.8,491.1 L185.2,493.5 L209.3,494.6 L230.1,495.1 L232.6,490.3 L234.2,487.8 L241.4,487.0 L243.0,485.0" fill="none" stroke="#41b6c4" stroke-width="4.5" stroke-opacity="0.75" stroke-linejoin="round" filter="url(#blur1b)"/>
<path d="M140.8,487.8 L145.0,486.2 L147.4,490.3 L149.8,491.1 L185.2,493.5 L209.3,494.6 L230.1,495.1 L232.6,490.3 L234.2,487.8 L241.4,487.0 L243.0,485.0" fill="none" stroke="#1d3f8f" stroke-width="2.9000000000000004" stroke-opacity="0.8" stroke-linejoin="round" filter="url(#blur1)"/>
<path d="M140.8,487.8 L145.0,486.2 L147.4,490.3 L149.8,491.1 L185.2,493.5 L209.3,494.6 L230.1,495.1 L232.6,490.3 L234.2,487.8 L241.4,487.0 L243.0,485.0" fill="none" stroke="#0b1d5e" stroke-width="2.1" stroke-linejoin="round" filter="url(#blur1)"/>
<rect x="139.2" y="474.7" width="2.2" height="3.6" fill="#0b1d5e" filter="url(#blur1)"/>
<line x1="242.5" y1="479.0" x2="242.5" y2="487.0" stroke="#1f4e9a" stroke-width="1.4" stroke-opacity="0.8" filter="url(#blur1)"/>
</g>
<defs><clipPath id="clip553"><rect x="139.80" y="505.20" width="103.30" height="50.60"/></clipPath></defs>
<rect x="139.80" y="505.20" width="103.30" height="50.60" fill="#f6fcd9" />
<g clip-path="url(#clip553)">
<path d="M140.8,540.3 L147.4,539.1 L151.5,544.3 L154.7,545.1 L156.5,544.3 L185.2,546.4 L206.0,548.0 L222.1,546.7 L225.3,542.7 L228.5,541.0 L239.8,539.8 L243.0,537.8" fill="none" stroke="#c7e9b4" stroke-width="10.1" stroke-opacity="0.6" stroke-linejoin="round" filter="url(#blur3)"/>
<path d="M140.8,540.3 L147.4,539.1 L151.5,544.3 L154.7,545.1 L156.5,544.3 L185.2,546.4 L206.0,548.0 L222.1,546.7 L225.3,542.7 L228.5,541.0 L239.8,539.8 L243.0,537.8" fill="none" stroke="#41b6c4" stroke-width="4.5" stroke-opacity="0.75" stroke-linejoin="round" filter="url(#blur1b)"/>
<path d="M140.8,540.3 L147.4,539.1 L151.5,544.3 L154.7,545.1 L156.5,544.3 L185.2,546.4 L206.0,548.0 L222.1,546.7 L225.3,542.7 L228.5,541.0 L239.8,539.8 L243.0,537.8" fill="none" stroke="#1d3f8f" stroke-width="2.9000000000000004" stroke-opacity="0.8" stroke-linejoin="round" filter="url(#blur1)"/>
<path d="M140.8,540.3 L147.4,539.1 L151.5,544.3 L154.7,545.1 L156.5,544.3 L185.2,546.4 L206.0,548.0 L222.1,546.7 L225.3,542.7 L228.5,541.0 L239.8,539.8 L243.0,537.8" fill="none" stroke="#0b1d5e" stroke-width="2.1" stroke-linejoin="round" filter="url(#blur1)"/>
<rect x="139.5" y="527.2" width="2.2" height="3.6" fill="#0b1d5e" filter="url(#blur1)"/>
<line x1="242.4" y1="531.0" x2="242.4" y2="538.0" stroke="#1f4e9a" stroke-width="1.4" stroke-opacity="0.8" filter="url(#blur1)"/>
</g>
<text x="191.40" y="466.40" font-size="9.80" text-anchor="middle" xml:space="preserve" textLength="27.60" lengthAdjust="spacingAndGlyphs"><tspan font-family='"Liberation Sans", sans-serif' font-weight="bold" fill="#111">hp1_7</tspan></text>
<text x="148.84" y="477.10" font-family='"Liberation Serif", serif' font-size="9.40" font-weight="normal" fill="#555555" textLength="5.42" lengthAdjust="spacingAndGlyphs">E</text>
<text x="154.54" y="477.10" font-family='"Liberation Serif", serif' font-size="9.40" font-weight="normal" fill="#555555" textLength="5.42" lengthAdjust="spacingAndGlyphs">G</text>
<text x="161.38" y="477.10" font-family='"Liberation Serif", serif' font-size="9.40" font-weight="normal" fill="#555555">I</text>
<text x="166.04" y="477.10" font-family='"Liberation Serif", serif' font-size="9.40" font-weight="normal" fill="#555555">P</text>
<text x="171.74" y="477.10" font-family='"Liberation Serif", serif' font-size="9.40" font-weight="normal" fill="#555555">P</text>
<text x="177.34" y="477.10" font-family='"Liberation Serif", serif' font-size="9.40" font-weight="normal" fill="#555555" textLength="5.42" lengthAdjust="spacingAndGlyphs">Q</text>
<text x="182.76" y="477.10" font-family='"Liberation Serif", serif' font-size="9.40" font-weight="bold" fill="#e53222" textLength="5.99" lengthAdjust="spacingAndGlyphs">Q</text>
<text x="188.74" y="477.10" font-family='"Liberation Serif", serif' font-size="9.40" font-weight="normal" fill="#555555" textLength="5.42" lengthAdjust="spacingAndGlyphs">Q</text>
<text x="194.44" y="477.10" font-family='"Liberation Serif", serif' font-size="9.40" font-weight="normal" fill="#555555" textLength="5.42" lengthAdjust="spacingAndGlyphs">R</text>
<text x="200.14" y="477.10" font-family='"Liberation Serif", serif' font-size="9.40" font-weight="normal" fill="#555555" textLength="5.42" lengthAdjust="spacingAndGlyphs">L</text>
<text x="206.98" y="477.10" font-family='"Liberation Serif", serif' font-size="9.40" font-weight="normal" fill="#555555">I</text>
<text x="211.54" y="477.10" font-family='"Liberation Serif", serif' font-size="9.40" font-weight="normal" fill="#555555" textLength="5.42" lengthAdjust="spacingAndGlyphs">Y</text>
<text x="217.34" y="477.10" font-family='"Liberation Serif", serif' font-size="9.40" font-weight="normal" fill="#555555">S</text>
<text x="222.94" y="477.10" font-family='"Liberation Serif", serif' font-size="9.40" font-weight="normal" fill="#555555" textLength="5.42" lengthAdjust="spacingAndGlyphs">G</text>
<text x="228.64" y="477.10" font-family='"Liberation Serif", serif' font-size="9.40" font-weight="normal" fill="#555555" textLength="5.42" lengthAdjust="spacingAndGlyphs">K</text>
<text x="191.40" y="517.00" font-size="9.80" text-anchor="middle" xml:space="preserve" textLength="23.50" lengthAdjust="spacingAndGlyphs"><tspan font-family='"Liberation Sans", sans-serif' font-weight="bold" fill="#111">Q40E</tspan></text>
<text x="148.84" y="527.70" font-family='"Liberation Serif", serif' font-size="9.40" font-weight="normal" fill="#555555" textLength="5.42" lengthAdjust="spacingAndGlyphs">E</text>
<text x="154.54" y="527.70" font-family='"Liberation Serif", serif' font-size="9.40" font-weight="normal" fill="#555555" textLength="5.42" lengthAdjust="spacingAndGlyphs">G</text>
<text x="161.38" y="527.70" font-family='"Liberation Serif", serif' font-size="9.40" font-weight="normal" fill="#555555">I</text>
<text x="166.04" y="527.70" font-family='"Liberation Serif", serif' font-size="9.40" font-weight="normal" fill="#555555">P</text>
<text x="171.74" y="527.70" font-family='"Liberation Serif", serif' font-size="9.40" font-weight="normal" fill="#555555">P</text>
<text x="177.34" y="527.70" font-family='"Liberation Serif", serif' font-size="9.40" font-weight="normal" fill="#555555" textLength="5.42" lengthAdjust="spacingAndGlyphs">Q</text>
<text x="182.76" y="527.70" font-family='"Liberation Serif", serif' font-size="9.40" font-weight="bold" fill="#e53222" textLength="5.99" lengthAdjust="spacingAndGlyphs">E</text>
<text x="188.74" y="527.70" font-family='"Liberation Serif", serif' font-size="9.40" font-weight="normal" fill="#555555" textLength="5.42" lengthAdjust="spacingAndGlyphs">Q</text>
<text x="194.44" y="527.70" font-family='"Liberation Serif", serif' font-size="9.40" font-weight="normal" fill="#555555" textLength="5.42" lengthAdjust="spacingAndGlyphs">R</text>
<text x="200.14" y="527.70" font-family='"Liberation Serif", serif' font-size="9.40" font-weight="normal" fill="#555555" textLength="5.42" lengthAdjust="spacingAndGlyphs">L</text>
<text x="206.98" y="527.70" font-family='"Liberation Serif", serif' font-size="9.40" font-weight="normal" fill="#555555">I</text>
<text x="211.54" y="527.70" font-family='"Liberation Serif", serif' font-size="9.40" font-weight="normal" fill="#555555" textLength="5.42" lengthAdjust="spacingAndGlyphs">Y</text>
<text x="217.34" y="527.70" font-family='"Liberation Serif", serif' font-size="9.40" font-weight="normal" fill="#555555">S</text>
<text x="222.94" y="527.70" font-family='"Liberation Serif", serif' font-size="9.40" font-weight="normal" fill="#555555" textLength="5.42" lengthAdjust="spacingAndGlyphs">G</text>
<text x="228.64" y="527.70" font-family='"Liberation Serif", serif' font-size="9.40" font-weight="normal" fill="#555555" textLength="5.42" lengthAdjust="spacingAndGlyphs">K</text>
<defs><clipPath id="clip595"><rect x="381.30" y="454.50" width="93.50" height="101.30"/></clipPath></defs>
<rect x="381.30" y="454.50" width="93.50" height="101.30" fill="#f6fcd9" />
<g clip-path="url(#clip595)">
<path d="M381.5,526.4 L386.3,522.7 L388.5,534.4 L393.6,537.3 L396.5,535.9 L415.5,541.0 L437.4,543.9 L447.6,545.4 L458.6,543.9 L460.8,530.0 L463.7,527.8 L473.2,525.7 L474.8,524.0" fill="none" stroke="#c7e9b4" stroke-width="11.0" stroke-opacity="0.6" stroke-linejoin="round" filter="url(#blur3)"/>
<path d="M390.0,542.0 L400.0,544.0 L415.0,545.0" fill="none" stroke="#41b6c4" stroke-width="4" stroke-opacity="0.25" stroke-linejoin="round" filter="url(#blur3)"/>
<path d="M392.0,532.5 L410.0,534.0 L425.0,537.0 L440.0,540.5 L437.4,543.5 L415.5,540.5 L396.5,535.5 L393.6,537.0 Z" fill="#5fb5c6" fill-opacity="0.8" filter="url(#blur2)"/>
<path d="M381.5,526.4 L386.3,522.7 L388.5,534.4 L393.6,537.3 L396.5,535.9 L415.5,541.0 L437.4,543.9 L447.6,545.4 L458.6,543.9 L460.8,530.0 L463.7,527.8 L473.2,525.7 L474.8,524.0" fill="none" stroke="#41b6c4" stroke-width="5.4" stroke-opacity="0.75" stroke-linejoin="round" filter="url(#blur1b)"/>
<path d="M381.5,526.4 L386.3,522.7 L388.5,534.4 L393.6,537.3 L396.5,535.9 L415.5,541.0 L437.4,543.9 L447.6,545.4 L458.6,543.9 L460.8,530.0 L463.7,527.8 L473.2,525.7 L474.8,524.0" fill="none" stroke="#1d3f8f" stroke-width="3.8" stroke-opacity="0.8" stroke-linejoin="round" filter="url(#blur1)"/>
<path d="M381.5,526.4 L386.3,522.7 L388.5,534.4 L393.6,537.3 L396.5,535.9 L415.5,541.0 L437.4,543.9 L447.6,545.4 L458.6,543.9 L460.8,530.0 L463.7,527.8 L473.2,525.7 L474.8,524.0" fill="none" stroke="#0b1d5e" stroke-width="3.0" stroke-linejoin="round" filter="url(#blur1)"/>
<rect x="380.2" y="502.0" width="2.2" height="3.6" fill="#0b1d5e" filter="url(#blur1)"/>
<line x1="474.4" y1="507.0" x2="474.4" y2="525.0" stroke="#1f4e9a" stroke-width="2.2" stroke-opacity="0.8" filter="url(#blur1)"/>
</g>
<defs><clipPath id="clip607"><rect x="485.80" y="454.50" width="94.10" height="101.30"/></clipPath></defs>
<rect x="485.80" y="454.50" width="94.10" height="101.30" fill="#f6fcd9" />
<g clip-path="url(#clip607)">
<path d="M486.5,525.7 L504.9,524.9 L506.4,521.5 L507.1,521.3 L513.7,536.6 L526.8,535.9 L541.4,538.8 L544.3,540.3 L554.5,530.8 L567.7,527.8 L577.9,525.7 L579.6,522.0" fill="none" stroke="#c7e9b4" stroke-width="10.8" stroke-opacity="0.6" stroke-linejoin="round" filter="url(#blur3)"/>
<path d="M507.0,530.0 L515.0,533.0" fill="none" stroke="#41b6c4" stroke-width="5" stroke-opacity="0.3" stroke-linejoin="round" filter="url(#blur3)"/>
<path d="M486.5,525.7 L504.9,524.9 L506.4,521.5 L507.1,521.3 L513.7,536.6 L526.8,535.9 L541.4,538.8 L544.3,540.3 L554.5,530.8 L567.7,527.8 L577.9,525.7 L579.6,522.0" fill="none" stroke="#41b6c4" stroke-width="5.199999999999999" stroke-opacity="0.75" stroke-linejoin="round" filter="url(#blur1b)"/>
<path d="M486.5,525.7 L504.9,524.9 L506.4,521.5 L507.1,521.3 L513.7,536.6 L526.8,535.9 L541.4,538.8 L544.3,540.3 L554.5,530.8 L567.7,527.8 L577.9,525.7 L579.6,522.0" fill="none" stroke="#1d3f8f" stroke-width="3.5999999999999996" stroke-opacity="0.8" stroke-linejoin="round" filter="url(#blur1)"/>
<path d="M486.5,525.7 L504.9,524.9 L506.4,521.5 L507.1,521.3 L513.7,536.6 L526.8,535.9 L541.4,538.8 L544.3,540.3 L554.5,530.8 L567.7,527.8 L577.9,525.7 L579.6,522.0" fill="none" stroke="#0b1d5e" stroke-width="2.8" stroke-linejoin="round" filter="url(#blur1)"/>
<line x1="506.4" y1="513.2" x2="506.4" y2="522.0" stroke="#2c5fa0" stroke-width="0.9" stroke-opacity="0.7" filter="url(#blur1)"/>
<line x1="487.2" y1="503.0" x2="487.5" y2="525.7" stroke="#2c7fb8" stroke-width="1.0" stroke-opacity="0.55" filter="url(#blur1)"/>
<rect x="485.6" y="501.2" width="2.2" height="3.6" fill="#0b1d5e" filter="url(#blur1)"/>
<line x1="579.3" y1="508.0" x2="579.3" y2="525.0" stroke="#1f4e9a" stroke-width="2.0" stroke-opacity="0.8" filter="url(#blur1)"/>
</g>
<defs><clipPath id="clip620"><rect x="589.80" y="454.50" width="95.20" height="101.30"/></clipPath></defs>
<rect x="589.80" y="454.50" width="95.20" height="101.30" fill="#f6fcd9" />
<g clip-path="url(#clip620)">
<path d="M590.8,526.4 L597.4,524.2 L598.9,525.0 L601.1,535.1 L611.3,536.6 L627.3,533.7 L636.1,535.9 L649.2,538.8 L662.4,531.5 L682.1,527.1 L685.0,525.0" fill="none" stroke="#c7e9b4" stroke-width="10.8" stroke-opacity="0.6" stroke-linejoin="round" filter="url(#blur3)"/>
<path d="M590.8,526.4 L597.4,524.2 L598.9,525.0 L601.1,535.1 L611.3,536.6 L627.3,533.7 L636.1,535.9 L649.2,538.8 L662.4,531.5 L682.1,527.1 L685.0,525.0" fill="none" stroke="#41b6c4" stroke-width="5.199999999999999" stroke-opacity="0.75" stroke-linejoin="round" filter="url(#blur1b)"/>
<path d="M590.8,526.4 L597.4,524.2 L598.9,525.0 L601.1,535.1 L611.3,536.6 L627.3,533.7 L636.1,535.9 L649.2,538.8 L662.4,531.5 L682.1,527.1 L685.0,525.0" fill="none" stroke="#1d3f8f" stroke-width="3.5999999999999996" stroke-opacity="0.8" stroke-linejoin="round" filter="url(#blur1)"/>
<path d="M590.8,526.4 L597.4,524.2 L598.9,525.0 L601.1,535.1 L611.3,536.6 L627.3,533.7 L636.1,535.9 L649.2,538.8 L662.4,531.5 L682.1,527.1 L685.0,525.0" fill="none" stroke="#0b1d5e" stroke-width="2.8" stroke-linejoin="round" filter="url(#blur1)"/>
<line x1="591.1" y1="503.8" x2="591.4" y2="526.4" stroke="#2c7fb8" stroke-width="1.0" stroke-opacity="0.55" filter="url(#blur1)"/>
<rect x="589.5" y="502.0" width="2.2" height="3.6" fill="#0b1d5e" filter="url(#blur1)"/>
<line x1="683.5" y1="506.7" x2="683.5" y2="527.0" stroke="#1f4e9a" stroke-width="2.4" stroke-opacity="0.8" filter="url(#blur1)"/>
</g>
<text x="426.70" y="466.40" font-size="9.80" text-anchor="middle" xml:space="preserve" textLength="31.60" lengthAdjust="spacingAndGlyphs"><tspan font-family='"Liberation Sans", sans-serif' font-weight="bold" fill="#111">hp3_11</tspan></text>
<text x="387.14" y="477.10" font-family='"Liberation Serif", serif' font-size="9.40" font-weight="normal" fill="#555555" textLength="5.37" lengthAdjust="spacingAndGlyphs">T</text>
<text x="392.80" y="477.10" font-family='"Liberation Serif", serif' font-size="9.40" font-weight="normal" fill="#555555" textLength="5.37" lengthAdjust="spacingAndGlyphs">V</text>
<text x="398.53" y="477.10" font-family='"Liberation Serif", serif' font-size="9.40" font-weight="normal" fill="#555555">P</text>
<text x="404.11" y="477.10" font-family='"Liberation Serif", serif' font-size="9.40" font-weight="normal" fill="#555555" textLength="5.37" lengthAdjust="spacingAndGlyphs">Q</text>
<text x="409.49" y="477.10" font-family='"Liberation Sans", sans-serif' font-size="9.40" font-weight="bold" fill="#e53222" textLength="5.94" lengthAdjust="spacingAndGlyphs">S</text>
<text x="415.14" y="477.10" font-family='"Liberation Sans", sans-serif' font-size="9.40" font-weight="bold" fill="#e53222" textLength="5.94" lengthAdjust="spacingAndGlyphs">S</text>
<text x="421.08" y="477.10" font-family='"Liberation Serif", serif' font-size="9.40" font-weight="normal" fill="#555555" textLength="5.37" lengthAdjust="spacingAndGlyphs">L</text>
<text x="426.74" y="477.10" font-family='"Liberation Serif", serif' font-size="9.40" font-weight="normal" fill="#555555" textLength="5.37" lengthAdjust="spacingAndGlyphs">T</text>
<text x="432.40" y="477.10" font-family='"Liberation Serif", serif' font-size="9.40" font-weight="normal" fill="#555555" textLength="5.37" lengthAdjust="spacingAndGlyphs">M</text>
<text x="438.06" y="477.10" font-family='"Liberation Serif", serif' font-size="9.40" font-weight="normal" fill="#555555" textLength="5.37" lengthAdjust="spacingAndGlyphs">G</text>
<text x="443.71" y="477.10" font-family='"Liberation Serif", serif' font-size="9.40" font-weight="normal" fill="#555555" textLength="5.37" lengthAdjust="spacingAndGlyphs">Q</text>
<text x="449.37" y="477.10" font-family='"Liberation Serif", serif' font-size="9.40" font-weight="normal" fill="#555555" textLength="5.37" lengthAdjust="spacingAndGlyphs">L</text>
<text x="455.03" y="477.10" font-family='"Liberation Serif", serif' font-size="9.40" font-weight="normal" fill="#555555" textLength="5.37" lengthAdjust="spacingAndGlyphs">Y</text>
<text x="460.68" y="477.10" font-family='"Liberation Serif", serif' font-size="9.40" font-weight="normal" fill="#555555" textLength="5.37" lengthAdjust="spacingAndGlyphs">E</text>
<text x="532.00" y="466.40" font-size="9.80" text-anchor="middle" xml:space="preserve" textLength="22.10" lengthAdjust="spacingAndGlyphs"><tspan font-family='"Liberation Sans", sans-serif' font-weight="bold" fill="#111">pS88</tspan></text>
<text x="489.94" y="477.10" font-family='"Liberation Serif", serif' font-size="9.40" font-weight="normal" fill="#555555" textLength="5.33" lengthAdjust="spacingAndGlyphs">T</text>
<text x="495.55" y="477.10" font-family='"Liberation Serif", serif' font-size="9.40" font-weight="normal" fill="#555555" textLength="5.33" lengthAdjust="spacingAndGlyphs">V</text>
<text x="501.22" y="477.10" font-family='"Liberation Serif", serif' font-size="9.40" font-weight="normal" fill="#555555">P</text>
<text x="506.78" y="477.10" font-family='"Liberation Serif", serif' font-size="9.40" font-weight="normal" fill="#555555" textLength="5.33" lengthAdjust="spacingAndGlyphs">Q</text>
<text x="512.45" y="477.10" font-family='"Liberation Serif", serif' font-size="9.40" font-weight="normal" fill="#555555">S</text>
<text x="517.80" y="477.10" font-family='"Liberation Sans", sans-serif' font-size="9.40" font-weight="bold" fill="#e53222">p</text>
<text x="523.34" y="477.10" font-family='"Liberation Sans", sans-serif' font-size="9.40" font-weight="bold" fill="#e53222" textLength="5.89" lengthAdjust="spacingAndGlyphs">S</text>
<text x="529.23" y="477.10" font-family='"Liberation Serif", serif' font-size="9.40" font-weight="normal" fill="#555555" textLength="5.33" lengthAdjust="spacingAndGlyphs">L</text>
<text x="534.85" y="477.10" font-family='"Liberation Serif", serif' font-size="9.40" font-weight="normal" fill="#555555" textLength="5.33" lengthAdjust="spacingAndGlyphs">T</text>
<text x="540.46" y="477.10" font-family='"Liberation Serif", serif' font-size="9.40" font-weight="normal" fill="#555555" textLength="5.33" lengthAdjust="spacingAndGlyphs">M</text>
<text x="546.07" y="477.10" font-family='"Liberation Serif", serif' font-size="9.40" font-weight="normal" fill="#555555" textLength="5.33" lengthAdjust="spacingAndGlyphs">G</text>
<text x="551.69" y="477.10" font-family='"Liberation Serif", serif' font-size="9.40" font-weight="normal" fill="#555555" textLength="5.33" lengthAdjust="spacingAndGlyphs">Q</text>
<text x="557.30" y="477.10" font-family='"Liberation Serif", serif' font-size="9.40" font-weight="normal" fill="#555555" textLength="5.33" lengthAdjust="spacingAndGlyphs">L</text>
<text x="562.91" y="477.10" font-family='"Liberation Serif", serif' font-size="9.40" font-weight="normal" fill="#555555" textLength="5.33" lengthAdjust="spacingAndGlyphs">Y</text>
<text x="568.53" y="477.10" font-family='"Liberation Serif", serif' font-size="9.40" font-weight="normal" fill="#555555" textLength="5.33" lengthAdjust="spacingAndGlyphs">E</text>
<text x="637.70" y="466.40" font-size="9.80" text-anchor="middle" xml:space="preserve" textLength="44.30" lengthAdjust="spacingAndGlyphs"><tspan font-family='"Liberation Sans", sans-serif' font-weight="bold" fill="#111">pS87pS88</tspan></text>
<text x="593.14" y="477.10" font-family='"Liberation Serif", serif' font-size="9.40" font-weight="normal" fill="#555555" textLength="5.33" lengthAdjust="spacingAndGlyphs">T</text>
<text x="598.75" y="477.10" font-family='"Liberation Serif", serif' font-size="9.40" font-weight="normal" fill="#555555" textLength="5.33" lengthAdjust="spacingAndGlyphs">V</text>
<text x="604.40" y="477.10" font-family='"Liberation Serif", serif' font-size="9.40" font-weight="normal" fill="#555555">P</text>
<text x="609.96" y="477.10" font-family='"Liberation Serif", serif' font-size="9.40" font-weight="normal" fill="#555555" textLength="5.33" lengthAdjust="spacingAndGlyphs">Q</text>
<text x="615.36" y="477.10" font-family='"Liberation Sans", sans-serif' font-size="9.40" font-weight="bold" fill="#e53222">p</text>
<text x="620.89" y="477.10" font-family='"Liberation Sans", sans-serif' font-size="9.40" font-weight="bold" fill="#e53222" textLength="5.89" lengthAdjust="spacingAndGlyphs">S</text>
<text x="626.57" y="477.10" font-family='"Liberation Sans", sans-serif' font-size="9.40" font-weight="bold" fill="#e53222">p</text>
<text x="632.10" y="477.10" font-family='"Liberation Sans", sans-serif' font-size="9.40" font-weight="bold" fill="#e53222" textLength="5.89" lengthAdjust="spacingAndGlyphs">S</text>
<text x="637.99" y="477.10" font-family='"Liberation Serif", serif' font-size="9.40" font-weight="normal" fill="#555555" textLength="5.33" lengthAdjust="spacingAndGlyphs">L</text>
<text x="643.60" y="477.10" font-family='"Liberation Serif", serif' font-size="9.40" font-weight="normal" fill="#555555" textLength="5.33" lengthAdjust="spacingAndGlyphs">T</text>
<text x="649.20" y="477.10" font-family='"Liberation Serif", serif' font-size="9.40" font-weight="normal" fill="#555555" textLength="5.33" lengthAdjust="spacingAndGlyphs">M</text>
<text x="654.81" y="477.10" font-family='"Liberation Serif", serif' font-size="9.40" font-weight="normal" fill="#555555" textLength="5.33" lengthAdjust="spacingAndGlyphs">G</text>
<text x="660.42" y="477.10" font-family='"Liberation Serif", serif' font-size="9.40" font-weight="normal" fill="#555555" textLength="5.33" lengthAdjust="spacingAndGlyphs">Q</text>
<text x="666.02" y="477.10" font-family='"Liberation Serif", serif' font-size="9.40" font-weight="normal" fill="#555555" textLength="5.33" lengthAdjust="spacingAndGlyphs">L</text>
<text x="671.63" y="477.10" font-family='"Liberation Serif", serif' font-size="9.40" font-weight="normal" fill="#555555" textLength="5.33" lengthAdjust="spacingAndGlyphs">Y</text>
<text x="677.23" y="477.10" font-family='"Liberation Serif", serif' font-size="9.40" font-weight="normal" fill="#555555" textLength="5.33" lengthAdjust="spacingAndGlyphs">E</text>
</svg></body></html>
